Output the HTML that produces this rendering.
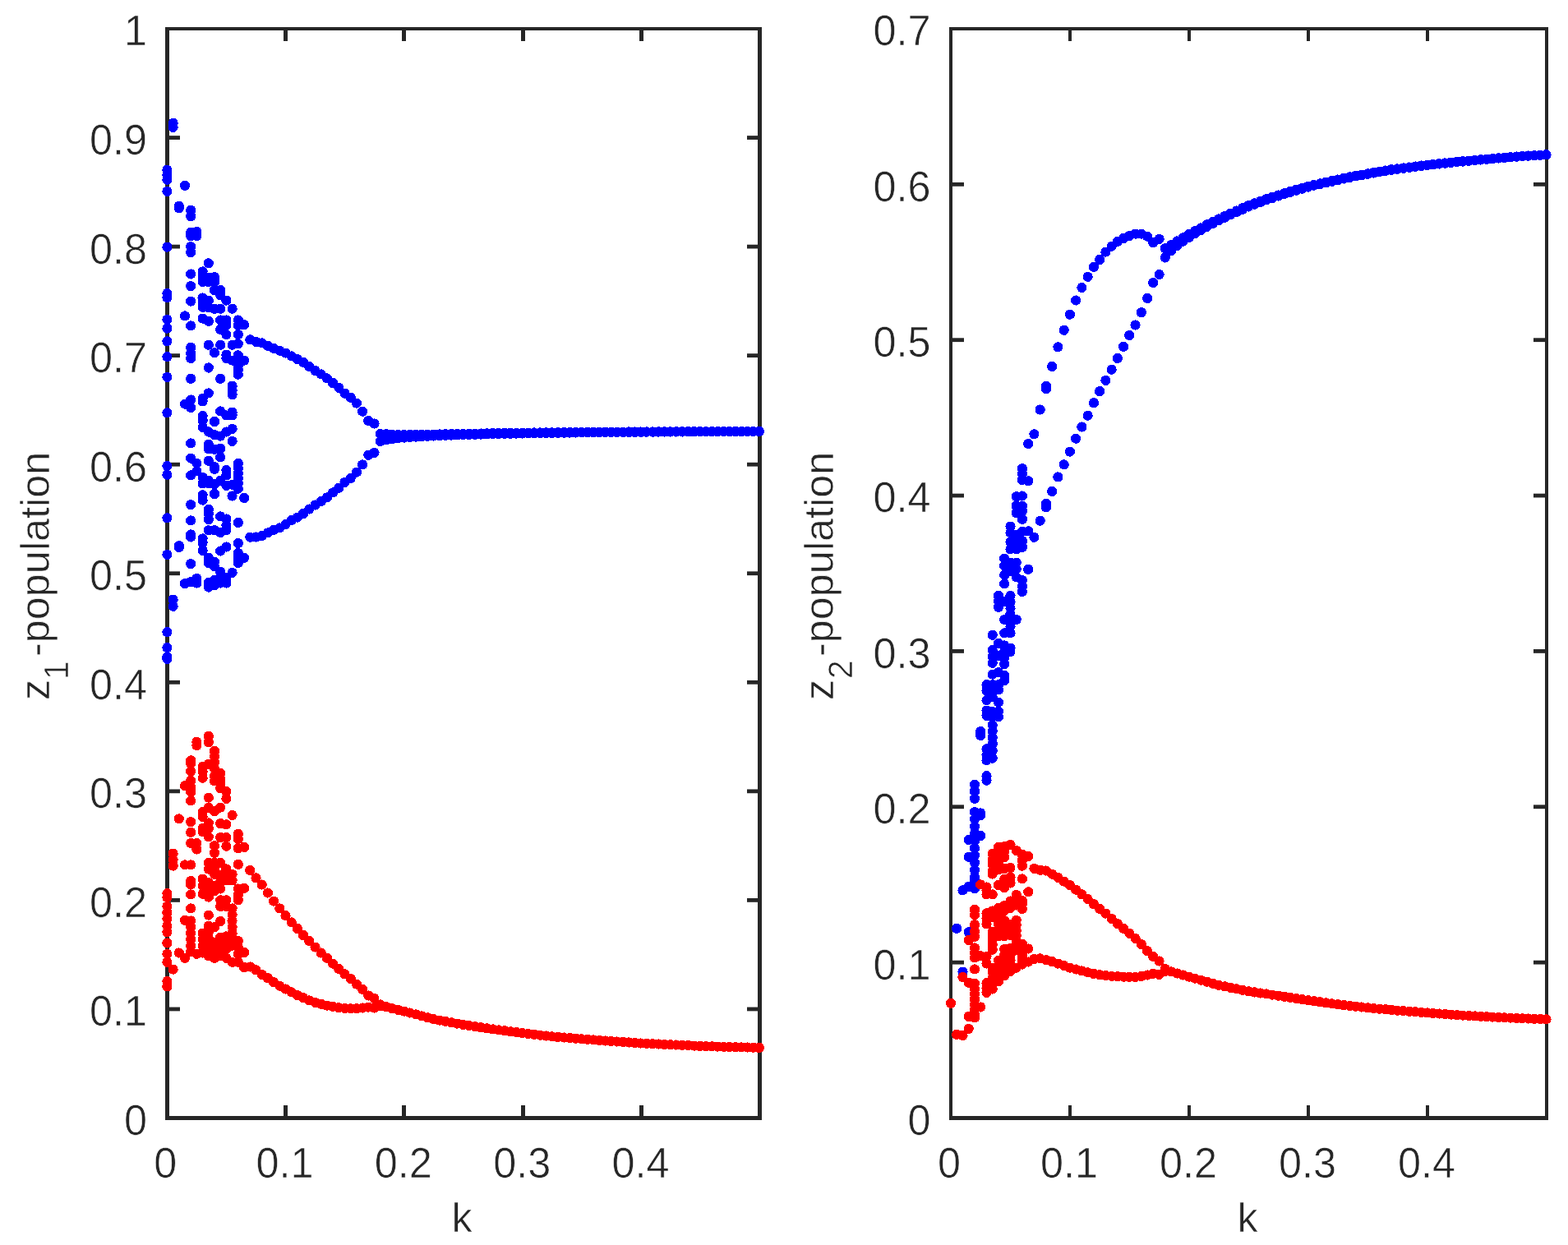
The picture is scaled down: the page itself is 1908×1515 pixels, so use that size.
<!DOCTYPE html>
<html lang="en"><head><meta charset="utf-8"><title>Bifurcation diagrams</title>
<style>html,body{margin:0;padding:0;background:#fff;overflow:hidden}svg{display:block}text{font-family:"Liberation Sans",sans-serif;fill:#262626;stroke:#fff;stroke-width:.6px}.b{fill:#0000ff}.r{fill:#ff0000}.a{fill:#262626}</style></head><body>
<svg width="1908" height="1515" viewBox="0 0 1908 1515">
<rect width="1908" height="1515" fill="#fff"/>
<g class="a">
<rect x="201" y="33" width="5" height="1330"/>
<rect x="922" y="33" width="5" height="1330"/>
<rect x="201" y="33" width="726" height="4"/>
<rect x="201" y="1358" width="726" height="5"/>
<rect x="345" y="1345" width="5" height="14"/>
<rect x="345" y="36" width="5" height="14"/>
<rect x="489" y="1345" width="5" height="14"/>
<rect x="489" y="36" width="5" height="14"/>
<rect x="634" y="1345" width="5" height="14"/>
<rect x="634" y="36" width="5" height="14"/>
<rect x="778" y="1345" width="5" height="14"/>
<rect x="778" y="36" width="5" height="14"/>
<rect x="205" y="1225.55" width="14" height="4.8"/>
<rect x="909" y="1225.55" width="14" height="4.8"/>
<rect x="205" y="1093.00" width="14" height="4.8"/>
<rect x="909" y="1093.00" width="14" height="4.8"/>
<rect x="205" y="960.45" width="14" height="4.8"/>
<rect x="909" y="960.45" width="14" height="4.8"/>
<rect x="205" y="827.90" width="14" height="4.8"/>
<rect x="909" y="827.90" width="14" height="4.8"/>
<rect x="205" y="695.35" width="14" height="4.8"/>
<rect x="909" y="695.35" width="14" height="4.8"/>
<rect x="205" y="562.80" width="14" height="4.8"/>
<rect x="909" y="562.80" width="14" height="4.8"/>
<rect x="205" y="430.25" width="14" height="4.8"/>
<rect x="909" y="430.25" width="14" height="4.8"/>
<rect x="205" y="297.70" width="14" height="4.8"/>
<rect x="909" y="297.70" width="14" height="4.8"/>
<rect x="205" y="165.15" width="14" height="4.8"/>
<rect x="909" y="165.15" width="14" height="4.8"/>
</g>
<g font-size="52.3">
<text transform="translate(201.20 1432.9) scale(0.963 1)" text-anchor="middle">0</text>
<text transform="translate(346.53 1432.9) scale(0.963 1)" text-anchor="middle">0.1</text>
<text transform="translate(490.86 1432.9) scale(0.963 1)" text-anchor="middle">0.2</text>
<text transform="translate(635.19 1432.9) scale(0.963 1)" text-anchor="middle">0.3</text>
<text transform="translate(779.52 1432.9) scale(0.963 1)" text-anchor="middle">0.4</text>
<text transform="translate(179.00 1380.90) scale(0.963 1)" text-anchor="end">0</text>
<text transform="translate(179.00 1248.35) scale(0.963 1)" text-anchor="end">0.1</text>
<text transform="translate(179.00 1115.80) scale(0.963 1)" text-anchor="end">0.2</text>
<text transform="translate(179.00 983.25) scale(0.963 1)" text-anchor="end">0.3</text>
<text transform="translate(179.00 850.70) scale(0.963 1)" text-anchor="end">0.4</text>
<text transform="translate(179.00 718.15) scale(0.963 1)" text-anchor="end">0.5</text>
<text transform="translate(179.00 585.60) scale(0.963 1)" text-anchor="end">0.6</text>
<text transform="translate(179.00 453.05) scale(0.963 1)" text-anchor="end">0.7</text>
<text transform="translate(179.00 320.50) scale(0.963 1)" text-anchor="end">0.8</text>
<text transform="translate(179.00 187.95) scale(0.963 1)" text-anchor="end">0.9</text>
<text transform="translate(179.00 55.40) scale(0.963 1)" text-anchor="end">1</text>
<text x="562.00" y="1499" font-size="50.4" text-anchor="middle">k</text>
<g transform="translate(60.00 0) rotate(-90)">
<text x="-852" y="0" font-size="50.4">z</text>
<text transform="translate(-827 22.9) scale(0.963 1)" font-size="42">1</text>
<text x="-799" y="0" font-size="50.4">-population</text>
</g>
</g>
<g class="a">
<rect x="1155" y="33" width="4" height="1330"/>
<rect x="1880" y="33" width="4" height="1330"/>
<rect x="1155" y="33" width="729" height="4"/>
<rect x="1155" y="1358" width="729" height="5"/>
<rect x="1300" y="1345" width="4" height="14"/>
<rect x="1300" y="36" width="4" height="14"/>
<rect x="1445" y="1345" width="4" height="14"/>
<rect x="1445" y="36" width="4" height="14"/>
<rect x="1590" y="1345" width="4" height="14"/>
<rect x="1590" y="36" width="4" height="14"/>
<rect x="1735" y="1345" width="4" height="14"/>
<rect x="1735" y="36" width="4" height="14"/>
<rect x="1158" y="1168.74" width="15" height="4.8"/>
<rect x="1866" y="1168.74" width="15" height="4.8"/>
<rect x="1158" y="979.38" width="15" height="4.8"/>
<rect x="1866" y="979.38" width="15" height="4.8"/>
<rect x="1158" y="790.02" width="15" height="4.8"/>
<rect x="1866" y="790.02" width="15" height="4.8"/>
<rect x="1158" y="600.66" width="15" height="4.8"/>
<rect x="1866" y="600.66" width="15" height="4.8"/>
<rect x="1158" y="411.30" width="15" height="4.8"/>
<rect x="1866" y="411.30" width="15" height="4.8"/>
<rect x="1158" y="221.94" width="15" height="4.8"/>
<rect x="1866" y="221.94" width="15" height="4.8"/>
</g>
<g font-size="52.3">
<text transform="translate(1155.00 1432.9) scale(0.963 1)" text-anchor="middle">0</text>
<text transform="translate(1301.00 1432.9) scale(0.963 1)" text-anchor="middle">0.1</text>
<text transform="translate(1446.00 1432.9) scale(0.963 1)" text-anchor="middle">0.2</text>
<text transform="translate(1591.00 1432.9) scale(0.963 1)" text-anchor="middle">0.3</text>
<text transform="translate(1736.00 1432.9) scale(0.963 1)" text-anchor="middle">0.4</text>
<text transform="translate(1132.50 1380.90) scale(0.963 1)" text-anchor="end">0</text>
<text transform="translate(1132.50 1191.54) scale(0.963 1)" text-anchor="end">0.1</text>
<text transform="translate(1132.50 1002.18) scale(0.963 1)" text-anchor="end">0.2</text>
<text transform="translate(1132.50 812.82) scale(0.963 1)" text-anchor="end">0.3</text>
<text transform="translate(1132.50 623.46) scale(0.963 1)" text-anchor="end">0.4</text>
<text transform="translate(1132.50 434.10) scale(0.963 1)" text-anchor="end">0.5</text>
<text transform="translate(1132.50 244.74) scale(0.963 1)" text-anchor="end">0.6</text>
<text transform="translate(1132.50 55.38) scale(0.963 1)" text-anchor="end">0.7</text>
<text x="1518.00" y="1499" font-size="50.4" text-anchor="middle">k</text>
<g transform="translate(1014.10 0) rotate(-90)">
<text x="-852" y="0" font-size="50.4">z</text>
<text transform="translate(-826 22.9) scale(0.963 1)" font-size="42">2</text>
<text x="-799" y="0" font-size="50.4">-population</text>
</g>
</g>
<g id="dots" shape-rendering="crispEdges">
<circle class="b" cx="203.4" cy="206.7" r="6.1"/>
<circle class="b" cx="203.4" cy="213.0" r="6.1"/>
<circle class="b" cx="203.4" cy="218.7" r="6.1"/>
<circle class="b" cx="203.4" cy="232.9" r="6.1"/>
<circle class="b" cx="203.4" cy="300.6" r="6.1"/>
<circle class="b" cx="203.4" cy="357.0" r="6.1"/>
<circle class="b" cx="203.4" cy="362.2" r="6.1"/>
<circle class="b" cx="203.4" cy="388.9" r="6.1"/>
<circle class="b" cx="203.4" cy="399.6" r="6.1"/>
<circle class="b" cx="203.4" cy="415.3" r="6.1"/>
<circle class="b" cx="203.4" cy="434.2" r="6.1"/>
<circle class="b" cx="203.4" cy="458.9" r="6.1"/>
<circle class="b" cx="203.4" cy="502.3" r="6.1"/>
<circle class="b" cx="203.4" cy="567.0" r="6.1"/>
<circle class="b" cx="203.4" cy="577.7" r="6.1"/>
<circle class="b" cx="203.4" cy="630.3" r="6.1"/>
<circle class="b" cx="203.4" cy="674.9" r="6.1"/>
<circle class="b" cx="203.4" cy="769.2" r="6.1"/>
<circle class="b" cx="203.4" cy="788.1" r="6.1"/>
<circle class="b" cx="203.4" cy="799.4" r="6.1"/>
<circle class="b" cx="203.4" cy="801.9" r="6.1"/>
<circle class="b" cx="210.6" cy="149.7" r="6.1"/>
<circle class="b" cx="210.6" cy="154.9" r="6.1"/>
<circle class="b" cx="210.6" cy="729.6" r="6.1"/>
<circle class="b" cx="210.6" cy="737.8" r="6.1"/>
<circle class="b" cx="217.8" cy="250.8" r="6.1"/>
<circle class="b" cx="217.8" cy="253.3" r="6.1"/>
<circle class="b" cx="217.8" cy="664.2" r="6.1"/>
<circle class="b" cx="217.8" cy="666.1" r="6.1"/>
<circle class="b" cx="225.0" cy="225.8" r="6.1"/>
<circle class="b" cx="225.0" cy="384.5" r="6.1"/>
<circle class="b" cx="225.0" cy="491.6" r="6.1"/>
<circle class="b" cx="225.0" cy="710.1" r="6.1"/>
<circle class="b" cx="232.2" cy="255.8" r="6.1"/>
<circle class="b" cx="232.2" cy="263.3" r="6.1"/>
<circle class="b" cx="232.2" cy="282.8" r="6.1"/>
<circle class="b" cx="232.2" cy="287.2" r="6.1"/>
<circle class="b" cx="232.2" cy="300.2" r="6.1"/>
<circle class="b" cx="232.2" cy="307.1" r="6.1"/>
<circle class="b" cx="232.2" cy="333.5" r="6.1"/>
<circle class="b" cx="232.2" cy="348.2" r="6.1"/>
<circle class="b" cx="232.2" cy="366.6" r="6.1"/>
<circle class="b" cx="232.2" cy="396.4" r="6.1"/>
<circle class="b" cx="232.2" cy="422.8" r="6.1"/>
<circle class="b" cx="232.2" cy="429.7" r="6.1"/>
<circle class="b" cx="232.2" cy="436.0" r="6.1"/>
<circle class="b" cx="232.2" cy="460.8" r="6.1"/>
<circle class="b" cx="232.2" cy="486.5" r="6.1"/>
<circle class="b" cx="232.2" cy="496.0" r="6.1"/>
<circle class="b" cx="232.2" cy="539.4" r="6.1"/>
<circle class="b" cx="232.2" cy="557.6" r="6.1"/>
<circle class="b" cx="232.2" cy="578.4" r="6.1"/>
<circle class="b" cx="232.2" cy="614.2" r="6.1"/>
<circle class="b" cx="232.2" cy="633.4" r="6.1"/>
<circle class="b" cx="232.2" cy="650.4" r="6.1"/>
<circle class="b" cx="232.2" cy="653.5" r="6.1"/>
<circle class="b" cx="232.2" cy="686.2" r="6.1"/>
<circle class="b" cx="232.2" cy="708.2" r="6.1"/>
<circle class="b" cx="239.4" cy="281.8" r="6.1"/>
<circle class="b" cx="239.4" cy="287.2" r="6.1"/>
<circle class="b" cx="239.4" cy="563.9" r="6.1"/>
<circle class="b" cx="239.4" cy="573.3" r="6.1"/>
<circle class="b" cx="239.4" cy="703.8" r="6.1"/>
<circle class="b" cx="239.4" cy="709.5" r="6.1"/>
<circle class="b" cx="246.6" cy="330.4" r="6.1"/>
<circle class="b" cx="246.6" cy="336.7" r="6.1"/>
<circle class="b" cx="246.6" cy="343.0" r="6.1"/>
<circle class="b" cx="246.6" cy="362.5" r="6.1"/>
<circle class="b" cx="246.6" cy="368.1" r="6.1"/>
<circle class="b" cx="246.6" cy="373.8" r="6.1"/>
<circle class="b" cx="246.6" cy="387.6" r="6.1"/>
<circle class="b" cx="246.6" cy="484.7" r="6.1"/>
<circle class="b" cx="246.6" cy="488.4" r="6.1"/>
<circle class="b" cx="246.6" cy="506.0" r="6.1"/>
<circle class="b" cx="246.6" cy="511.7" r="6.1"/>
<circle class="b" cx="246.6" cy="519.9" r="6.1"/>
<circle class="b" cx="246.6" cy="580.9" r="6.1"/>
<circle class="b" cx="246.6" cy="588.4" r="6.1"/>
<circle class="b" cx="246.6" cy="602.3" r="6.1"/>
<circle class="b" cx="246.6" cy="608.6" r="6.1"/>
<circle class="b" cx="246.6" cy="655.4" r="6.1"/>
<circle class="b" cx="246.6" cy="660.4" r="6.1"/>
<circle class="b" cx="246.6" cy="669.9" r="6.1"/>
<circle class="b" cx="253.8" cy="320.3" r="6.1"/>
<circle class="b" cx="253.8" cy="337.9" r="6.1"/>
<circle class="b" cx="253.8" cy="343.0" r="6.1"/>
<circle class="b" cx="253.8" cy="365.6" r="6.1"/>
<circle class="b" cx="253.8" cy="374.4" r="6.1"/>
<circle class="b" cx="253.8" cy="390.8" r="6.1"/>
<circle class="b" cx="253.8" cy="419.7" r="6.1"/>
<circle class="b" cx="253.8" cy="447.5" r="6.1"/>
<circle class="b" cx="253.8" cy="478.4" r="6.1"/>
<circle class="b" cx="253.8" cy="525.5" r="6.1"/>
<circle class="b" cx="253.8" cy="540.6" r="6.1"/>
<circle class="b" cx="253.8" cy="546.3" r="6.1"/>
<circle class="b" cx="253.8" cy="560.8" r="6.1"/>
<circle class="b" cx="253.8" cy="584.7" r="6.1"/>
<circle class="b" cx="253.8" cy="588.4" r="6.1"/>
<circle class="b" cx="253.8" cy="619.9" r="6.1"/>
<circle class="b" cx="253.8" cy="624.9" r="6.1"/>
<circle class="b" cx="253.8" cy="632.1" r="6.1"/>
<circle class="b" cx="253.8" cy="645.3" r="6.1"/>
<circle class="b" cx="253.8" cy="678.7" r="6.1"/>
<circle class="b" cx="253.8" cy="685.0" r="6.1"/>
<circle class="b" cx="253.8" cy="708.9" r="6.1"/>
<circle class="b" cx="253.8" cy="714.5" r="6.1"/>
<circle class="b" cx="261.0" cy="337.3" r="6.1"/>
<circle class="b" cx="261.0" cy="343.0" r="6.1"/>
<circle class="b" cx="261.0" cy="353.0" r="6.1"/>
<circle class="b" cx="261.0" cy="375.7" r="6.1"/>
<circle class="b" cx="261.0" cy="429.1" r="6.1"/>
<circle class="b" cx="261.0" cy="513.0" r="6.1"/>
<circle class="b" cx="261.0" cy="529.3" r="6.1"/>
<circle class="b" cx="261.0" cy="546.9" r="6.1"/>
<circle class="b" cx="261.0" cy="568.3" r="6.1"/>
<circle class="b" cx="261.0" cy="570.8" r="6.1"/>
<circle class="b" cx="261.0" cy="589.1" r="6.1"/>
<circle class="b" cx="261.0" cy="601.0" r="6.1"/>
<circle class="b" cx="261.0" cy="645.3" r="6.1"/>
<circle class="b" cx="261.0" cy="683.7" r="6.1"/>
<circle class="b" cx="261.0" cy="689.4" r="6.1"/>
<circle class="b" cx="261.0" cy="705.7" r="6.1"/>
<circle class="b" cx="261.0" cy="712.0" r="6.1"/>
<circle class="b" cx="268.2" cy="353.0" r="6.1"/>
<circle class="b" cx="268.2" cy="359.3" r="6.1"/>
<circle class="b" cx="268.2" cy="375.7" r="6.1"/>
<circle class="b" cx="268.2" cy="389.5" r="6.1"/>
<circle class="b" cx="268.2" cy="400.8" r="6.1"/>
<circle class="b" cx="268.2" cy="419.7" r="6.1"/>
<circle class="b" cx="268.2" cy="460.8" r="6.1"/>
<circle class="b" cx="268.2" cy="500.4" r="6.1"/>
<circle class="b" cx="268.2" cy="530.6" r="6.1"/>
<circle class="b" cx="268.2" cy="545.7" r="6.1"/>
<circle class="b" cx="268.2" cy="556.4" r="6.1"/>
<circle class="b" cx="268.2" cy="584.7" r="6.1"/>
<circle class="b" cx="268.2" cy="628.4" r="6.1"/>
<circle class="b" cx="268.2" cy="647.9" r="6.1"/>
<circle class="b" cx="268.2" cy="670.5" r="6.1"/>
<circle class="b" cx="268.2" cy="695.7" r="6.1"/>
<circle class="b" cx="268.2" cy="703.2" r="6.1"/>
<circle class="b" cx="268.2" cy="709.5" r="6.1"/>
<circle class="b" cx="275.4" cy="365.6" r="6.1"/>
<circle class="b" cx="275.4" cy="389.5" r="6.1"/>
<circle class="b" cx="275.4" cy="395.8" r="6.1"/>
<circle class="b" cx="275.4" cy="407.1" r="6.1"/>
<circle class="b" cx="275.4" cy="431.6" r="6.1"/>
<circle class="b" cx="275.4" cy="436.0" r="6.1"/>
<circle class="b" cx="275.4" cy="505.4" r="6.1"/>
<circle class="b" cx="275.4" cy="525.5" r="6.1"/>
<circle class="b" cx="275.4" cy="572.1" r="6.1"/>
<circle class="b" cx="275.4" cy="578.4" r="6.1"/>
<circle class="b" cx="275.4" cy="590.9" r="6.1"/>
<circle class="b" cx="275.4" cy="631.5" r="6.1"/>
<circle class="b" cx="275.4" cy="639.1" r="6.1"/>
<circle class="b" cx="275.4" cy="645.3" r="6.1"/>
<circle class="b" cx="275.4" cy="665.5" r="6.1"/>
<circle class="b" cx="275.4" cy="703.2" r="6.1"/>
<circle class="b" cx="275.4" cy="709.5" r="6.1"/>
<circle class="b" cx="282.6" cy="375.7" r="6.1"/>
<circle class="b" cx="282.6" cy="419.7" r="6.1"/>
<circle class="b" cx="282.6" cy="438.6" r="6.1"/>
<circle class="b" cx="282.6" cy="469.6" r="6.1"/>
<circle class="b" cx="282.6" cy="475.0" r="6.1"/>
<circle class="b" cx="282.6" cy="480.3" r="6.1"/>
<circle class="b" cx="282.6" cy="501.6" r="6.1"/>
<circle class="b" cx="282.6" cy="505.4" r="6.1"/>
<circle class="b" cx="282.6" cy="521.8" r="6.1"/>
<circle class="b" cx="282.6" cy="536.9" r="6.1"/>
<circle class="b" cx="282.6" cy="589.7" r="6.1"/>
<circle class="b" cx="282.6" cy="603.5" r="6.1"/>
<circle class="b" cx="282.6" cy="696.9" r="6.1"/>
<circle class="b" cx="289.8" cy="389.5" r="6.1"/>
<circle class="b" cx="289.8" cy="395.8" r="6.1"/>
<circle class="b" cx="289.8" cy="407.1" r="6.1"/>
<circle class="b" cx="289.8" cy="418.4" r="6.1"/>
<circle class="b" cx="289.8" cy="432.3" r="6.1"/>
<circle class="b" cx="289.8" cy="438.6" r="6.1"/>
<circle class="b" cx="289.8" cy="445.0" r="6.1"/>
<circle class="b" cx="289.8" cy="450.1" r="6.1"/>
<circle class="b" cx="289.8" cy="455.7" r="6.1"/>
<circle class="b" cx="289.8" cy="563.9" r="6.1"/>
<circle class="b" cx="289.8" cy="569.6" r="6.1"/>
<circle class="b" cx="289.8" cy="575.8" r="6.1"/>
<circle class="b" cx="289.8" cy="582.1" r="6.1"/>
<circle class="b" cx="289.8" cy="588.4" r="6.1"/>
<circle class="b" cx="289.8" cy="594.7" r="6.1"/>
<circle class="b" cx="289.8" cy="635.9" r="6.1"/>
<circle class="b" cx="289.8" cy="661.1" r="6.1"/>
<circle class="b" cx="289.8" cy="673.0" r="6.1"/>
<circle class="b" cx="289.8" cy="678.7" r="6.1"/>
<circle class="b" cx="289.8" cy="685.0" r="6.1"/>
<circle class="b" cx="297.1" cy="395.2" r="6.1"/>
<circle class="b" cx="297.1" cy="438.6" r="6.1"/>
<circle class="b" cx="297.1" cy="606.0" r="6.1"/>
<circle class="b" cx="297.1" cy="678.7" r="6.1"/>
<circle class="b" cx="304.3" cy="413.3" r="6.1"/>
<circle class="b" cx="304.3" cy="653.7" r="6.1"/>
<circle class="b" cx="311.5" cy="415.8" r="6.1"/>
<circle class="b" cx="311.5" cy="653.5" r="6.1"/>
<circle class="b" cx="318.7" cy="417.4" r="6.1"/>
<circle class="b" cx="318.7" cy="652.0" r="6.1"/>
<circle class="b" cx="325.9" cy="420.8" r="6.1"/>
<circle class="b" cx="325.9" cy="648.4" r="6.1"/>
<circle class="b" cx="333.1" cy="424.0" r="6.1"/>
<circle class="b" cx="333.1" cy="644.7" r="6.1"/>
<circle class="b" cx="340.3" cy="426.7" r="6.1"/>
<circle class="b" cx="340.3" cy="642.4" r="6.1"/>
<circle class="b" cx="347.5" cy="429.6" r="6.1"/>
<circle class="b" cx="347.5" cy="638.1" r="6.1"/>
<circle class="b" cx="354.7" cy="433.4" r="6.1"/>
<circle class="b" cx="354.7" cy="633.1" r="6.1"/>
<circle class="b" cx="361.9" cy="437.2" r="6.1"/>
<circle class="b" cx="361.9" cy="629.6" r="6.1"/>
<circle class="b" cx="369.1" cy="440.9" r="6.1"/>
<circle class="b" cx="369.1" cy="624.9" r="6.1"/>
<circle class="b" cx="376.3" cy="446.0" r="6.1"/>
<circle class="b" cx="376.3" cy="619.5" r="6.1"/>
<circle class="b" cx="383.5" cy="451.0" r="6.1"/>
<circle class="b" cx="383.5" cy="614.5" r="6.1"/>
<circle class="b" cx="390.7" cy="455.4" r="6.1"/>
<circle class="b" cx="390.7" cy="610.1" r="6.1"/>
<circle class="b" cx="397.9" cy="460.4" r="6.1"/>
<circle class="b" cx="397.9" cy="605.4" r="6.1"/>
<circle class="b" cx="405.1" cy="466.1" r="6.1"/>
<circle class="b" cx="405.1" cy="599.4" r="6.1"/>
<circle class="b" cx="412.3" cy="471.8" r="6.1"/>
<circle class="b" cx="412.3" cy="593.7" r="6.1"/>
<circle class="b" cx="419.5" cy="478.7" r="6.1"/>
<circle class="b" cx="419.5" cy="586.8" r="6.1"/>
<circle class="b" cx="426.7" cy="483.7" r="6.1"/>
<circle class="b" cx="426.7" cy="582.0" r="6.1"/>
<circle class="b" cx="433.9" cy="490.6" r="6.1"/>
<circle class="b" cx="433.9" cy="574.7" r="6.1"/>
<circle class="b" cx="441.1" cy="500.7" r="6.1"/>
<circle class="b" cx="441.1" cy="565.4" r="6.1"/>
<circle class="b" cx="448.3" cy="512.0" r="6.1"/>
<circle class="b" cx="448.3" cy="553.8" r="6.1"/>
<circle class="b" cx="455.5" cy="515.5" r="6.1"/>
<circle class="b" cx="455.5" cy="550.8" r="6.1"/>
<circle class="b" cx="462.7" cy="528.0" r="6.1"/>
<circle class="b" cx="462.7" cy="537.0" r="6.1"/>
<circle class="b" cx="469.9" cy="528.2" r="6.1"/>
<circle class="b" cx="469.9" cy="535.1" r="6.1"/>
<circle class="b" cx="477.2" cy="528.6" r="6.1"/>
<circle class="b" cx="477.2" cy="534.1" r="6.1"/>
<circle class="b" cx="484.4" cy="528.8" r="6.1"/>
<circle class="b" cx="484.4" cy="533.3" r="6.1"/>
<circle class="b" cx="491.6" cy="528.9" r="6.1"/>
<circle class="b" cx="491.6" cy="532.6" r="6.1"/>
<circle class="b" cx="498.8" cy="528.9" r="6.1"/>
<circle class="b" cx="498.8" cy="532.0" r="6.1"/>
<circle class="b" cx="506.0" cy="528.9" r="6.1"/>
<circle class="b" cx="506.0" cy="531.6" r="6.1"/>
<circle class="b" cx="513.2" cy="528.8" r="6.1"/>
<circle class="b" cx="513.2" cy="531.2" r="6.1"/>
<circle class="b" cx="520.4" cy="528.7" r="6.1"/>
<circle class="b" cx="520.4" cy="530.8" r="6.1"/>
<circle class="b" cx="527.6" cy="528.6" r="6.1"/>
<circle class="b" cx="527.6" cy="530.5" r="6.1"/>
<circle class="b" cx="534.8" cy="528.4" r="6.1"/>
<circle class="b" cx="534.8" cy="530.2" r="6.1"/>
<circle class="b" cx="542.0" cy="528.3" r="6.1"/>
<circle class="b" cx="542.0" cy="529.9" r="6.1"/>
<circle class="b" cx="549.2" cy="528.1" r="6.1"/>
<circle class="b" cx="549.2" cy="529.6" r="6.1"/>
<circle class="b" cx="556.4" cy="528.0" r="6.1"/>
<circle class="b" cx="556.4" cy="529.4" r="6.1"/>
<circle class="b" cx="563.6" cy="527.9" r="6.1"/>
<circle class="b" cx="563.6" cy="529.2" r="6.1"/>
<circle class="b" cx="570.8" cy="527.7" r="6.1"/>
<circle class="b" cx="570.8" cy="529.0" r="6.1"/>
<circle class="b" cx="578.0" cy="527.6" r="6.1"/>
<circle class="b" cx="578.0" cy="528.8" r="6.1"/>
<circle class="b" cx="585.2" cy="527.5" r="6.1"/>
<circle class="b" cx="585.2" cy="528.6" r="6.1"/>
<circle class="b" cx="592.4" cy="527.3" r="6.1"/>
<circle class="b" cx="592.4" cy="528.4" r="6.1"/>
<circle class="b" cx="599.6" cy="527.2" r="6.1"/>
<circle class="b" cx="599.6" cy="528.2" r="6.1"/>
<circle class="b" cx="606.8" cy="527.1" r="6.1"/>
<circle class="b" cx="606.8" cy="528.1" r="6.1"/>
<circle class="b" cx="614.0" cy="527.0" r="6.1"/>
<circle class="b" cx="614.0" cy="527.9" r="6.1"/>
<circle class="b" cx="621.2" cy="526.9" r="6.1"/>
<circle class="b" cx="621.2" cy="527.8" r="6.1"/>
<circle class="b" cx="628.4" cy="526.8" r="6.1"/>
<circle class="b" cx="628.4" cy="527.6" r="6.1"/>
<circle class="b" cx="635.6" cy="526.7" r="6.1"/>
<circle class="b" cx="635.6" cy="527.5" r="6.1"/>
<circle class="b" cx="642.8" cy="526.6" r="6.1"/>
<circle class="b" cx="642.8" cy="527.4" r="6.1"/>
<circle class="b" cx="650.0" cy="526.5" r="6.1"/>
<circle class="b" cx="650.0" cy="527.3" r="6.1"/>
<circle class="b" cx="657.3" cy="526.4" r="6.1"/>
<circle class="b" cx="657.3" cy="527.1" r="6.1"/>
<circle class="b" cx="664.5" cy="526.4" r="6.1"/>
<circle class="b" cx="664.5" cy="527.0" r="6.1"/>
<circle class="b" cx="671.7" cy="526.3" r="6.1"/>
<circle class="b" cx="671.7" cy="526.9" r="6.1"/>
<circle class="b" cx="678.9" cy="526.2" r="6.1"/>
<circle class="b" cx="678.9" cy="526.8" r="6.1"/>
<circle class="b" cx="686.1" cy="526.1" r="6.1"/>
<circle class="b" cx="686.1" cy="526.7" r="6.1"/>
<circle class="b" cx="693.3" cy="526.1" r="6.1"/>
<circle class="b" cx="693.3" cy="526.6" r="6.1"/>
<circle class="b" cx="700.5" cy="526.0" r="6.1"/>
<circle class="b" cx="700.5" cy="526.5" r="6.1"/>
<circle class="b" cx="707.7" cy="525.9" r="6.1"/>
<circle class="b" cx="707.7" cy="526.4" r="6.1"/>
<circle class="b" cx="714.9" cy="525.9" r="6.1"/>
<circle class="b" cx="714.9" cy="526.4" r="6.1"/>
<circle class="b" cx="722.1" cy="525.8" r="6.1"/>
<circle class="b" cx="722.1" cy="526.3" r="6.1"/>
<circle class="b" cx="729.3" cy="525.8" r="6.1"/>
<circle class="b" cx="729.3" cy="526.2" r="6.1"/>
<circle class="b" cx="736.5" cy="525.7" r="6.1"/>
<circle class="b" cx="736.5" cy="526.1" r="6.1"/>
<circle class="b" cx="743.7" cy="525.7" r="6.1"/>
<circle class="b" cx="743.7" cy="526.1" r="6.1"/>
<circle class="b" cx="750.9" cy="525.6" r="6.1"/>
<circle class="b" cx="750.9" cy="526.0" r="6.1"/>
<circle class="b" cx="758.1" cy="525.6" r="6.1"/>
<circle class="b" cx="758.1" cy="525.9" r="6.1"/>
<circle class="b" cx="765.3" cy="525.5" r="6.1"/>
<circle class="b" cx="765.3" cy="525.9" r="6.1"/>
<circle class="b" cx="772.5" cy="525.5" r="6.1"/>
<circle class="b" cx="772.5" cy="525.8" r="6.1"/>
<circle class="b" cx="779.7" cy="525.5" r="6.1"/>
<circle class="b" cx="779.7" cy="525.8" r="6.1"/>
<circle class="b" cx="786.9" cy="525.4" r="6.1"/>
<circle class="b" cx="786.9" cy="525.7" r="6.1"/>
<circle class="b" cx="794.1" cy="525.4" r="6.1"/>
<circle class="b" cx="794.1" cy="525.7" r="6.1"/>
<circle class="b" cx="801.3" cy="525.3" r="6.1"/>
<circle class="b" cx="801.3" cy="525.6" r="6.1"/>
<circle class="b" cx="808.5" cy="525.3" r="6.1"/>
<circle class="b" cx="808.5" cy="525.6" r="6.1"/>
<circle class="b" cx="815.7" cy="525.3" r="6.1"/>
<circle class="b" cx="815.7" cy="525.5" r="6.1"/>
<circle class="b" cx="822.9" cy="525.3" r="6.1"/>
<circle class="b" cx="822.9" cy="525.5" r="6.1"/>
<circle class="b" cx="830.1" cy="525.2" r="6.1"/>
<circle class="b" cx="830.1" cy="525.5" r="6.1"/>
<circle class="b" cx="837.4" cy="525.2" r="6.1"/>
<circle class="b" cx="837.4" cy="525.4" r="6.1"/>
<circle class="b" cx="844.6" cy="525.2" r="6.1"/>
<circle class="b" cx="844.6" cy="525.4" r="6.1"/>
<circle class="b" cx="851.8" cy="525.1" r="6.1"/>
<circle class="b" cx="851.8" cy="525.4" r="6.1"/>
<circle class="b" cx="859.0" cy="525.1" r="6.1"/>
<circle class="b" cx="859.0" cy="525.3" r="6.1"/>
<circle class="b" cx="866.2" cy="525.1" r="6.1"/>
<circle class="b" cx="866.2" cy="525.3" r="6.1"/>
<circle class="b" cx="873.4" cy="525.1" r="6.1"/>
<circle class="b" cx="873.4" cy="525.3" r="6.1"/>
<circle class="b" cx="880.6" cy="525.1" r="6.1"/>
<circle class="b" cx="880.6" cy="525.2" r="6.1"/>
<circle class="b" cx="887.8" cy="525.0" r="6.1"/>
<circle class="b" cx="887.8" cy="525.2" r="6.1"/>
<circle class="b" cx="895.0" cy="525.0" r="6.1"/>
<circle class="b" cx="895.0" cy="525.2" r="6.1"/>
<circle class="b" cx="902.2" cy="525.0" r="6.1"/>
<circle class="b" cx="902.2" cy="525.1" r="6.1"/>
<circle class="b" cx="909.4" cy="525.0" r="6.1"/>
<circle class="b" cx="909.4" cy="525.1" r="6.1"/>
<circle class="b" cx="916.6" cy="525.0" r="6.1"/>
<circle class="b" cx="916.6" cy="525.1" r="6.1"/>
<circle class="b" cx="923.8" cy="524.9" r="6.1"/>
<circle class="b" cx="923.8" cy="525.1" r="6.1"/>
<circle class="r" cx="210.6" cy="1038.6" r="6.1"/>
<circle class="r" cx="210.6" cy="1046.1" r="6.1"/>
<circle class="r" cx="210.6" cy="1053.6" r="6.1"/>
<circle class="r" cx="210.6" cy="1053.2" r="6.1"/>
<circle class="r" cx="210.6" cy="1179.6" r="6.1"/>
<circle class="r" cx="217.8" cy="996.4" r="6.1"/>
<circle class="r" cx="217.8" cy="1159.5" r="6.1"/>
<circle class="r" cx="225.0" cy="956.2" r="6.1"/>
<circle class="r" cx="225.0" cy="1052.4" r="6.1"/>
<circle class="r" cx="225.0" cy="1119.9" r="6.1"/>
<circle class="r" cx="225.0" cy="1165.8" r="6.1"/>
<circle class="r" cx="232.2" cy="925.3" r="6.1"/>
<circle class="r" cx="232.2" cy="929.1" r="6.1"/>
<circle class="r" cx="232.2" cy="938.6" r="6.1"/>
<circle class="r" cx="232.2" cy="949.9" r="6.1"/>
<circle class="r" cx="232.2" cy="958.1" r="6.1"/>
<circle class="r" cx="232.2" cy="963.7" r="6.1"/>
<circle class="r" cx="232.2" cy="974.4" r="6.1"/>
<circle class="r" cx="232.2" cy="1000.2" r="6.1"/>
<circle class="r" cx="232.2" cy="1012.8" r="6.1"/>
<circle class="r" cx="232.2" cy="1026.0" r="6.1"/>
<circle class="r" cx="232.2" cy="1052.4" r="6.1"/>
<circle class="r" cx="232.2" cy="1072.1" r="6.1"/>
<circle class="r" cx="232.2" cy="1076.5" r="6.1"/>
<circle class="r" cx="232.2" cy="1088.4" r="6.1"/>
<circle class="r" cx="232.2" cy="1105.4" r="6.1"/>
<circle class="r" cx="232.2" cy="1120.5" r="6.1"/>
<circle class="r" cx="232.2" cy="1128.1" r="6.1"/>
<circle class="r" cx="232.2" cy="1135.6" r="6.1"/>
<circle class="r" cx="232.2" cy="1143.1" r="6.1"/>
<circle class="r" cx="232.2" cy="1150.7" r="6.1"/>
<circle class="r" cx="232.2" cy="1158.2" r="6.1"/>
<circle class="r" cx="239.4" cy="902.7" r="6.1"/>
<circle class="r" cx="239.4" cy="907.1" r="6.1"/>
<circle class="r" cx="239.4" cy="1026.0" r="6.1"/>
<circle class="r" cx="239.4" cy="1033.5" r="6.1"/>
<circle class="r" cx="239.4" cy="1160.8" r="6.1"/>
<circle class="r" cx="246.6" cy="932.9" r="6.1"/>
<circle class="r" cx="246.6" cy="939.2" r="6.1"/>
<circle class="r" cx="246.6" cy="946.7" r="6.1"/>
<circle class="r" cx="246.6" cy="988.2" r="6.1"/>
<circle class="r" cx="246.6" cy="993.9" r="6.1"/>
<circle class="r" cx="246.6" cy="1007.7" r="6.1"/>
<circle class="r" cx="246.6" cy="1012.1" r="6.1"/>
<circle class="r" cx="246.6" cy="1069.6" r="6.1"/>
<circle class="r" cx="246.6" cy="1077.7" r="6.1"/>
<circle class="r" cx="246.6" cy="1087.8" r="6.1"/>
<circle class="r" cx="246.6" cy="1135.6" r="6.1"/>
<circle class="r" cx="246.6" cy="1143.1" r="6.1"/>
<circle class="r" cx="246.6" cy="1150.7" r="6.1"/>
<circle class="r" cx="246.6" cy="1159.5" r="6.1"/>
<circle class="r" cx="253.8" cy="895.8" r="6.1"/>
<circle class="r" cx="253.8" cy="903.3" r="6.1"/>
<circle class="r" cx="253.8" cy="929.7" r="6.1"/>
<circle class="r" cx="253.8" cy="970.6" r="6.1"/>
<circle class="r" cx="253.8" cy="982.6" r="6.1"/>
<circle class="r" cx="253.8" cy="1001.4" r="6.1"/>
<circle class="r" cx="253.8" cy="1008.4" r="6.1"/>
<circle class="r" cx="253.8" cy="1018.4" r="6.1"/>
<circle class="r" cx="253.8" cy="1049.9" r="6.1"/>
<circle class="r" cx="253.8" cy="1057.6" r="6.1"/>
<circle class="r" cx="253.8" cy="1074.0" r="6.1"/>
<circle class="r" cx="253.8" cy="1082.8" r="6.1"/>
<circle class="r" cx="253.8" cy="1091.6" r="6.1"/>
<circle class="r" cx="253.8" cy="1113.6" r="6.1"/>
<circle class="r" cx="253.8" cy="1126.8" r="6.1"/>
<circle class="r" cx="253.8" cy="1134.3" r="6.1"/>
<circle class="r" cx="253.8" cy="1141.9" r="6.1"/>
<circle class="r" cx="253.8" cy="1149.4" r="6.1"/>
<circle class="r" cx="253.8" cy="1157.0" r="6.1"/>
<circle class="r" cx="253.8" cy="1163.3" r="6.1"/>
<circle class="r" cx="261.0" cy="914.0" r="6.1"/>
<circle class="r" cx="261.0" cy="920.3" r="6.1"/>
<circle class="r" cx="261.0" cy="927.9" r="6.1"/>
<circle class="r" cx="261.0" cy="935.4" r="6.1"/>
<circle class="r" cx="261.0" cy="944.2" r="6.1"/>
<circle class="r" cx="261.0" cy="950.5" r="6.1"/>
<circle class="r" cx="261.0" cy="987.0" r="6.1"/>
<circle class="r" cx="261.0" cy="1029.1" r="6.1"/>
<circle class="r" cx="261.0" cy="1037.9" r="6.1"/>
<circle class="r" cx="261.0" cy="1049.9" r="6.1"/>
<circle class="r" cx="261.0" cy="1057.6" r="6.1"/>
<circle class="r" cx="261.0" cy="1063.9" r="6.1"/>
<circle class="r" cx="261.0" cy="1077.7" r="6.1"/>
<circle class="r" cx="261.0" cy="1084.0" r="6.1"/>
<circle class="r" cx="261.0" cy="1128.1" r="6.1"/>
<circle class="r" cx="261.0" cy="1146.9" r="6.1"/>
<circle class="r" cx="261.0" cy="1154.5" r="6.1"/>
<circle class="r" cx="261.0" cy="1162.0" r="6.1"/>
<circle class="r" cx="261.0" cy="1165.8" r="6.1"/>
<circle class="r" cx="268.2" cy="941.1" r="6.1"/>
<circle class="r" cx="268.2" cy="948.0" r="6.1"/>
<circle class="r" cx="268.2" cy="953.6" r="6.1"/>
<circle class="r" cx="268.2" cy="959.3" r="6.1"/>
<circle class="r" cx="268.2" cy="982.6" r="6.1"/>
<circle class="r" cx="268.2" cy="1002.1" r="6.1"/>
<circle class="r" cx="268.2" cy="1019.1" r="6.1"/>
<circle class="r" cx="268.2" cy="1049.9" r="6.1"/>
<circle class="r" cx="268.2" cy="1065.2" r="6.1"/>
<circle class="r" cx="268.2" cy="1072.7" r="6.1"/>
<circle class="r" cx="268.2" cy="1081.5" r="6.1"/>
<circle class="r" cx="268.2" cy="1095.3" r="6.1"/>
<circle class="r" cx="268.2" cy="1102.9" r="6.1"/>
<circle class="r" cx="268.2" cy="1121.1" r="6.1"/>
<circle class="r" cx="268.2" cy="1140.6" r="6.1"/>
<circle class="r" cx="268.2" cy="1148.2" r="6.1"/>
<circle class="r" cx="268.2" cy="1155.7" r="6.1"/>
<circle class="r" cx="268.2" cy="1163.3" r="6.1"/>
<circle class="r" cx="275.4" cy="963.1" r="6.1"/>
<circle class="r" cx="275.4" cy="971.9" r="6.1"/>
<circle class="r" cx="275.4" cy="1003.3" r="6.1"/>
<circle class="r" cx="275.4" cy="1019.1" r="6.1"/>
<circle class="r" cx="275.4" cy="1029.7" r="6.1"/>
<circle class="r" cx="275.4" cy="1057.4" r="6.1"/>
<circle class="r" cx="275.4" cy="1057.6" r="6.1"/>
<circle class="r" cx="275.4" cy="1065.2" r="6.1"/>
<circle class="r" cx="275.4" cy="1071.4" r="6.1"/>
<circle class="r" cx="275.4" cy="1095.3" r="6.1"/>
<circle class="r" cx="275.4" cy="1102.9" r="6.1"/>
<circle class="r" cx="275.4" cy="1139.4" r="6.1"/>
<circle class="r" cx="275.4" cy="1146.9" r="6.1"/>
<circle class="r" cx="275.4" cy="1154.5" r="6.1"/>
<circle class="r" cx="275.4" cy="1165.8" r="6.1"/>
<circle class="r" cx="282.6" cy="992.0" r="6.1"/>
<circle class="r" cx="282.6" cy="1063.9" r="6.1"/>
<circle class="r" cx="282.6" cy="1071.4" r="6.1"/>
<circle class="r" cx="282.6" cy="1105.4" r="6.1"/>
<circle class="r" cx="282.6" cy="1113.0" r="6.1"/>
<circle class="r" cx="282.6" cy="1120.5" r="6.1"/>
<circle class="r" cx="282.6" cy="1128.1" r="6.1"/>
<circle class="r" cx="282.6" cy="1135.6" r="6.1"/>
<circle class="r" cx="282.6" cy="1143.1" r="6.1"/>
<circle class="r" cx="282.6" cy="1150.7" r="6.1"/>
<circle class="r" cx="282.6" cy="1170.8" r="6.1"/>
<circle class="r" cx="289.8" cy="1014.7" r="6.1"/>
<circle class="r" cx="289.8" cy="1020.9" r="6.1"/>
<circle class="r" cx="289.8" cy="1032.3" r="6.1"/>
<circle class="r" cx="289.8" cy="1051.8" r="6.1"/>
<circle class="r" cx="289.8" cy="1081.5" r="6.1"/>
<circle class="r" cx="289.8" cy="1089.1" r="6.1"/>
<circle class="r" cx="289.8" cy="1095.3" r="6.1"/>
<circle class="r" cx="289.8" cy="1145.0" r="6.1"/>
<circle class="r" cx="289.8" cy="1153.2" r="6.1"/>
<circle class="r" cx="289.8" cy="1160.8" r="6.1"/>
<circle class="r" cx="289.8" cy="1170.8" r="6.1"/>
<circle class="r" cx="297.1" cy="1031.0" r="6.1"/>
<circle class="r" cx="297.1" cy="1080.9" r="6.1"/>
<circle class="r" cx="297.1" cy="1158.9" r="6.1"/>
<circle class="r" cx="297.1" cy="1177.1" r="6.1"/>
<circle class="r" cx="203.4" cy="1087.2" r="6.1"/>
<circle class="r" cx="203.4" cy="1092.2" r="6.1"/>
<circle class="r" cx="203.4" cy="1102.9" r="6.1"/>
<circle class="r" cx="203.4" cy="1110.4" r="6.1"/>
<circle class="r" cx="203.4" cy="1118.0" r="6.1"/>
<circle class="r" cx="203.4" cy="1126.8" r="6.1"/>
<circle class="r" cx="203.4" cy="1134.3" r="6.1"/>
<circle class="r" cx="203.4" cy="1147.5" r="6.1"/>
<circle class="r" cx="203.4" cy="1160.8" r="6.1"/>
<circle class="r" cx="203.4" cy="1170.8" r="6.1"/>
<circle class="r" cx="203.4" cy="1194.1" r="6.1"/>
<circle class="r" cx="203.4" cy="1200.4" r="6.1"/>
<circle class="r" cx="304.3" cy="1058.9" r="6.1"/>
<circle class="r" cx="304.3" cy="1176.5" r="6.1"/>
<circle class="r" cx="311.5" cy="1068.3" r="6.1"/>
<circle class="r" cx="311.5" cy="1180.3" r="6.1"/>
<circle class="r" cx="318.7" cy="1076.5" r="6.1"/>
<circle class="r" cx="318.7" cy="1185.9" r="6.1"/>
<circle class="r" cx="325.9" cy="1086.5" r="6.1"/>
<circle class="r" cx="325.9" cy="1190.3" r="6.1"/>
<circle class="r" cx="333.1" cy="1096.6" r="6.1"/>
<circle class="r" cx="333.1" cy="1195.3" r="6.1"/>
<circle class="r" cx="340.3" cy="1105.4" r="6.1"/>
<circle class="r" cx="340.3" cy="1199.7" r="6.1"/>
<circle class="r" cx="347.5" cy="1114.2" r="6.1"/>
<circle class="r" cx="347.5" cy="1203.5" r="6.1"/>
<circle class="r" cx="354.7" cy="1122.4" r="6.1"/>
<circle class="r" cx="354.7" cy="1207.3" r="6.1"/>
<circle class="r" cx="361.9" cy="1129.9" r="6.1"/>
<circle class="r" cx="361.9" cy="1211.1" r="6.1"/>
<circle class="r" cx="369.1" cy="1138.1" r="6.1"/>
<circle class="r" cx="369.1" cy="1214.2" r="6.1"/>
<circle class="r" cx="376.3" cy="1145.0" r="6.1"/>
<circle class="r" cx="376.3" cy="1217.4" r="6.1"/>
<circle class="r" cx="383.5" cy="1152.6" r="6.1"/>
<circle class="r" cx="383.5" cy="1219.9" r="6.1"/>
<circle class="r" cx="390.7" cy="1159.5" r="6.1"/>
<circle class="r" cx="390.7" cy="1221.8" r="6.1"/>
<circle class="r" cx="397.9" cy="1165.8" r="6.1"/>
<circle class="r" cx="397.9" cy="1223.6" r="6.1"/>
<circle class="r" cx="405.1" cy="1172.7" r="6.1"/>
<circle class="r" cx="405.1" cy="1224.9" r="6.1"/>
<circle class="r" cx="412.3" cy="1179.0" r="6.1"/>
<circle class="r" cx="412.3" cy="1226.2" r="6.1"/>
<circle class="r" cx="419.5" cy="1185.3" r="6.1"/>
<circle class="r" cx="419.5" cy="1226.8" r="6.1"/>
<circle class="r" cx="426.7" cy="1191.0" r="6.1"/>
<circle class="r" cx="426.7" cy="1227.3" r="6.1"/>
<circle class="r" cx="433.9" cy="1197.6" r="6.1"/>
<circle class="r" cx="433.9" cy="1227.3" r="6.1"/>
<circle class="r" cx="441.1" cy="1204.0" r="6.1"/>
<circle class="r" cx="441.1" cy="1226.5" r="6.1"/>
<circle class="r" cx="448.3" cy="1211.5" r="6.1"/>
<circle class="r" cx="448.3" cy="1225.6" r="6.1"/>
<circle class="r" cx="455.5" cy="1215.0" r="6.1"/>
<circle class="r" cx="455.5" cy="1226.5" r="6.1"/>
<circle class="r" cx="462.7" cy="1222.4" r="6.1"/>
<circle class="r" cx="462.7" cy="1224.2" r="6.1"/>
<circle class="r" cx="469.9" cy="1225.2" r="6.1"/>
<circle class="r" cx="477.2" cy="1227.2" r="6.1"/>
<circle class="r" cx="484.4" cy="1228.9" r="6.1"/>
<circle class="r" cx="491.6" cy="1230.6" r="6.1"/>
<circle class="r" cx="498.8" cy="1232.5" r="6.1"/>
<circle class="r" cx="506.0" cy="1234.4" r="6.1"/>
<circle class="r" cx="513.2" cy="1236.4" r="6.1"/>
<circle class="r" cx="520.4" cy="1238.3" r="6.1"/>
<circle class="r" cx="527.6" cy="1240.2" r="6.1"/>
<circle class="r" cx="534.8" cy="1241.6" r="6.1"/>
<circle class="r" cx="542.0" cy="1242.9" r="6.1"/>
<circle class="r" cx="549.2" cy="1244.3" r="6.1"/>
<circle class="r" cx="556.4" cy="1245.6" r="6.1"/>
<circle class="r" cx="563.6" cy="1247.0" r="6.1"/>
<circle class="r" cx="570.8" cy="1248.1" r="6.1"/>
<circle class="r" cx="578.0" cy="1249.2" r="6.1"/>
<circle class="r" cx="585.2" cy="1250.2" r="6.1"/>
<circle class="r" cx="592.4" cy="1251.3" r="6.1"/>
<circle class="r" cx="599.6" cy="1252.4" r="6.1"/>
<circle class="r" cx="606.8" cy="1253.4" r="6.1"/>
<circle class="r" cx="614.0" cy="1254.3" r="6.1"/>
<circle class="r" cx="621.2" cy="1255.3" r="6.1"/>
<circle class="r" cx="628.4" cy="1256.2" r="6.1"/>
<circle class="r" cx="635.6" cy="1257.2" r="6.1"/>
<circle class="r" cx="642.8" cy="1258.0" r="6.1"/>
<circle class="r" cx="650.0" cy="1258.8" r="6.1"/>
<circle class="r" cx="657.3" cy="1259.7" r="6.1"/>
<circle class="r" cx="664.5" cy="1260.5" r="6.1"/>
<circle class="r" cx="671.7" cy="1261.3" r="6.1"/>
<circle class="r" cx="678.9" cy="1261.9" r="6.1"/>
<circle class="r" cx="686.1" cy="1262.5" r="6.1"/>
<circle class="r" cx="693.3" cy="1263.1" r="6.1"/>
<circle class="r" cx="700.5" cy="1263.7" r="6.1"/>
<circle class="r" cx="707.7" cy="1264.3" r="6.1"/>
<circle class="r" cx="714.9" cy="1264.8" r="6.1"/>
<circle class="r" cx="722.1" cy="1265.4" r="6.1"/>
<circle class="r" cx="729.3" cy="1265.9" r="6.1"/>
<circle class="r" cx="736.5" cy="1266.5" r="6.1"/>
<circle class="r" cx="743.7" cy="1267.0" r="6.1"/>
<circle class="r" cx="750.9" cy="1267.5" r="6.1"/>
<circle class="r" cx="758.1" cy="1268.0" r="6.1"/>
<circle class="r" cx="765.3" cy="1268.5" r="6.1"/>
<circle class="r" cx="772.5" cy="1269.0" r="6.1"/>
<circle class="r" cx="779.7" cy="1269.5" r="6.1"/>
<circle class="r" cx="786.9" cy="1269.8" r="6.1"/>
<circle class="r" cx="794.1" cy="1270.2" r="6.1"/>
<circle class="r" cx="801.3" cy="1270.5" r="6.1"/>
<circle class="r" cx="808.5" cy="1270.9" r="6.1"/>
<circle class="r" cx="815.7" cy="1271.2" r="6.1"/>
<circle class="r" cx="822.9" cy="1271.5" r="6.1"/>
<circle class="r" cx="830.1" cy="1271.9" r="6.1"/>
<circle class="r" cx="837.4" cy="1272.2" r="6.1"/>
<circle class="r" cx="844.6" cy="1272.6" r="6.1"/>
<circle class="r" cx="851.8" cy="1272.9" r="6.1"/>
<circle class="r" cx="859.0" cy="1273.1" r="6.1"/>
<circle class="r" cx="866.2" cy="1273.3" r="6.1"/>
<circle class="r" cx="873.4" cy="1273.6" r="6.1"/>
<circle class="r" cx="880.6" cy="1273.8" r="6.1"/>
<circle class="r" cx="887.8" cy="1274.0" r="6.1"/>
<circle class="r" cx="895.0" cy="1274.2" r="6.1"/>
<circle class="r" cx="902.2" cy="1274.4" r="6.1"/>
<circle class="r" cx="909.4" cy="1274.5" r="6.1"/>
<circle class="r" cx="916.6" cy="1274.7" r="6.1"/>
<circle class="r" cx="923.8" cy="1274.9" r="6.1"/>
<circle class="b" cx="1215.0" cy="724.9" r="6.1"/>
<circle class="b" cx="1215.0" cy="725.0" r="6.1"/>
<circle class="b" cx="1215.0" cy="731.3" r="6.1"/>
<circle class="b" cx="1215.0" cy="738.9" r="6.1"/>
<circle class="b" cx="1215.0" cy="782.9" r="6.1"/>
<circle class="b" cx="1215.0" cy="798.0" r="6.1"/>
<circle class="b" cx="1215.0" cy="818.1" r="6.1"/>
<circle class="b" cx="1215.0" cy="833.2" r="6.1"/>
<circle class="b" cx="1215.0" cy="839.5" r="6.1"/>
<circle class="b" cx="1215.0" cy="854.6" r="6.1"/>
<circle class="b" cx="1215.0" cy="865.9" r="6.1"/>
<circle class="b" cx="1215.0" cy="872.2" r="6.1"/>
<circle class="b" cx="1222.2" cy="679.6" r="6.1"/>
<circle class="b" cx="1222.2" cy="688.4" r="6.1"/>
<circle class="b" cx="1222.2" cy="699.7" r="6.1"/>
<circle class="b" cx="1222.2" cy="710.4" r="6.1"/>
<circle class="b" cx="1222.2" cy="731.9" r="6.1"/>
<circle class="b" cx="1222.2" cy="754.0" r="6.1"/>
<circle class="b" cx="1222.2" cy="770.3" r="6.1"/>
<circle class="b" cx="1222.2" cy="785.4" r="6.1"/>
<circle class="b" cx="1222.2" cy="793.0" r="6.1"/>
<circle class="b" cx="1222.2" cy="800.5" r="6.1"/>
<circle class="b" cx="1222.2" cy="808.1" r="6.1"/>
<circle class="b" cx="1222.2" cy="821.9" r="6.1"/>
<circle class="b" cx="1222.2" cy="828.2" r="6.1"/>
<circle class="b" cx="1229.5" cy="640.6" r="6.1"/>
<circle class="b" cx="1229.5" cy="648.2" r="6.1"/>
<circle class="b" cx="1229.5" cy="659.5" r="6.1"/>
<circle class="b" cx="1229.5" cy="668.3" r="6.1"/>
<circle class="b" cx="1229.5" cy="684.7" r="6.1"/>
<circle class="b" cx="1229.5" cy="694.7" r="6.1"/>
<circle class="b" cx="1229.5" cy="724.9" r="6.1"/>
<circle class="b" cx="1229.5" cy="725.0" r="6.1"/>
<circle class="b" cx="1229.5" cy="732.6" r="6.1"/>
<circle class="b" cx="1229.5" cy="740.1" r="6.1"/>
<circle class="b" cx="1229.5" cy="747.0" r="6.1"/>
<circle class="b" cx="1229.5" cy="754.0" r="6.1"/>
<circle class="b" cx="1229.5" cy="762.1" r="6.1"/>
<circle class="b" cx="1229.5" cy="770.3" r="6.1"/>
<circle class="b" cx="1229.5" cy="788.6" r="6.1"/>
<circle class="b" cx="1229.5" cy="793.0" r="6.1"/>
<circle class="b" cx="1236.7" cy="604.2" r="6.1"/>
<circle class="b" cx="1236.7" cy="615.5" r="6.1"/>
<circle class="b" cx="1236.7" cy="624.3" r="6.1"/>
<circle class="b" cx="1236.7" cy="650.7" r="6.1"/>
<circle class="b" cx="1236.7" cy="659.5" r="6.1"/>
<circle class="b" cx="1236.7" cy="668.3" r="6.1"/>
<circle class="b" cx="1236.7" cy="684.7" r="6.1"/>
<circle class="b" cx="1236.7" cy="692.2" r="6.1"/>
<circle class="b" cx="1236.7" cy="702.3" r="6.1"/>
<circle class="b" cx="1236.7" cy="754.0" r="6.1"/>
<circle class="b" cx="1243.9" cy="570.2" r="6.1"/>
<circle class="b" cx="1243.9" cy="576.5" r="6.1"/>
<circle class="b" cx="1243.9" cy="584.0" r="6.1"/>
<circle class="b" cx="1243.9" cy="603.5" r="6.1"/>
<circle class="b" cx="1243.9" cy="615.5" r="6.1"/>
<circle class="b" cx="1243.9" cy="621.8" r="6.1"/>
<circle class="b" cx="1243.9" cy="631.8" r="6.1"/>
<circle class="b" cx="1243.9" cy="646.9" r="6.1"/>
<circle class="b" cx="1243.9" cy="658.2" r="6.1"/>
<circle class="b" cx="1243.9" cy="665.8" r="6.1"/>
<circle class="b" cx="1243.9" cy="706.0" r="6.1"/>
<circle class="b" cx="1243.9" cy="713.6" r="6.1"/>
<circle class="b" cx="1243.9" cy="719.9" r="6.1"/>
<circle class="b" cx="1251.2" cy="540.0" r="6.1"/>
<circle class="b" cx="1251.2" cy="585.3" r="6.1"/>
<circle class="b" cx="1251.2" cy="646.3" r="6.1"/>
<circle class="b" cx="1251.2" cy="692.8" r="6.1"/>
<circle class="b" cx="1193.2" cy="892.3" r="6.1"/>
<circle class="b" cx="1193.2" cy="894.8" r="6.1"/>
<circle class="b" cx="1193.2" cy="890.0" r="6.1"/>
<circle class="b" cx="1193.2" cy="895.0" r="6.1"/>
<circle class="b" cx="1193.2" cy="989.4" r="6.1"/>
<circle class="b" cx="1193.2" cy="991.9" r="6.1"/>
<circle class="b" cx="1193.2" cy="1017.0" r="6.1"/>
<circle class="b" cx="1200.5" cy="833.2" r="6.1"/>
<circle class="b" cx="1200.5" cy="840.8" r="6.1"/>
<circle class="b" cx="1200.5" cy="852.1" r="6.1"/>
<circle class="b" cx="1200.5" cy="864.7" r="6.1"/>
<circle class="b" cx="1200.5" cy="870.9" r="6.1"/>
<circle class="b" cx="1200.5" cy="911.4" r="6.1"/>
<circle class="b" cx="1200.5" cy="918.9" r="6.1"/>
<circle class="b" cx="1200.5" cy="925.2" r="6.1"/>
<circle class="b" cx="1200.5" cy="944.1" r="6.1"/>
<circle class="b" cx="1200.5" cy="949.7" r="6.1"/>
<circle class="b" cx="1207.7" cy="772.8" r="6.1"/>
<circle class="b" cx="1207.7" cy="791.1" r="6.1"/>
<circle class="b" cx="1207.7" cy="799.2" r="6.1"/>
<circle class="b" cx="1207.7" cy="806.8" r="6.1"/>
<circle class="b" cx="1207.7" cy="820.6" r="6.1"/>
<circle class="b" cx="1207.7" cy="833.2" r="6.1"/>
<circle class="b" cx="1207.7" cy="840.8" r="6.1"/>
<circle class="b" cx="1207.7" cy="848.3" r="6.1"/>
<circle class="b" cx="1207.7" cy="865.9" r="6.1"/>
<circle class="b" cx="1207.7" cy="872.2" r="6.1"/>
<circle class="b" cx="1207.7" cy="882.3" r="6.1"/>
<circle class="b" cx="1207.7" cy="889.8" r="6.1"/>
<circle class="b" cx="1207.7" cy="897.4" r="6.1"/>
<circle class="b" cx="1207.7" cy="904.9" r="6.1"/>
<circle class="b" cx="1207.7" cy="897.5" r="6.1"/>
<circle class="b" cx="1207.7" cy="905.1" r="6.1"/>
<circle class="b" cx="1207.7" cy="913.9" r="6.1"/>
<circle class="b" cx="1207.7" cy="922.7" r="6.1"/>
<circle class="b" cx="1186.0" cy="954.8" r="6.1"/>
<circle class="b" cx="1186.0" cy="963.0" r="6.1"/>
<circle class="b" cx="1186.0" cy="971.8" r="6.1"/>
<circle class="b" cx="1186.0" cy="988.1" r="6.1"/>
<circle class="b" cx="1186.0" cy="996.9" r="6.1"/>
<circle class="b" cx="1186.0" cy="1005.7" r="6.1"/>
<circle class="b" cx="1186.0" cy="1014.5" r="6.1"/>
<circle class="b" cx="1186.0" cy="1023.3" r="6.1"/>
<circle class="b" cx="1186.0" cy="1032.1" r="6.1"/>
<circle class="b" cx="1186.0" cy="1040.9" r="6.1"/>
<circle class="b" cx="1186.0" cy="1049.7" r="6.1"/>
<circle class="b" cx="1186.0" cy="1058.6" r="6.1"/>
<circle class="b" cx="1186.0" cy="1067.4" r="6.1"/>
<circle class="b" cx="1186.0" cy="1076.2" r="6.1"/>
<circle class="b" cx="1186.0" cy="1081.2" r="6.1"/>
<circle class="b" cx="1186.0" cy="1067.5" r="6.1"/>
<circle class="b" cx="1186.0" cy="1072.6" r="6.1"/>
<circle class="b" cx="1178.7" cy="1022.1" r="6.1"/>
<circle class="b" cx="1178.7" cy="1042.8" r="6.1"/>
<circle class="b" cx="1178.7" cy="1078.9" r="6.1"/>
<circle class="b" cx="1178.7" cy="1134.2" r="6.1"/>
<circle class="b" cx="1164.2" cy="1129.8" r="6.1"/>
<circle class="b" cx="1171.5" cy="1083.3" r="6.1"/>
<circle class="b" cx="1171.5" cy="1182.6" r="6.1"/>
<circle class="b" cx="1258.4" cy="528.3" r="6.1"/>
<circle class="b" cx="1258.4" cy="653.8" r="6.1"/>
<circle class="b" cx="1265.7" cy="498.5" r="6.1"/>
<circle class="b" cx="1265.7" cy="633.7" r="6.1"/>
<circle class="b" cx="1272.9" cy="471.4" r="6.1"/>
<circle class="b" cx="1272.9" cy="615.0" r="6.1"/>
<circle class="b" cx="1280.2" cy="445.9" r="6.1"/>
<circle class="b" cx="1280.2" cy="597.9" r="6.1"/>
<circle class="b" cx="1287.4" cy="422.3" r="6.1"/>
<circle class="b" cx="1287.4" cy="580.4" r="6.1"/>
<circle class="b" cx="1294.7" cy="401.8" r="6.1"/>
<circle class="b" cx="1294.7" cy="565.3" r="6.1"/>
<circle class="b" cx="1301.9" cy="382.7" r="6.1"/>
<circle class="b" cx="1301.9" cy="549.6" r="6.1"/>
<circle class="b" cx="1309.1" cy="365.5" r="6.1"/>
<circle class="b" cx="1309.1" cy="533.7" r="6.1"/>
<circle class="b" cx="1316.4" cy="350.0" r="6.1"/>
<circle class="b" cx="1316.4" cy="519.5" r="6.1"/>
<circle class="b" cx="1323.6" cy="336.8" r="6.1"/>
<circle class="b" cx="1323.6" cy="505.7" r="6.1"/>
<circle class="b" cx="1330.9" cy="324.8" r="6.1"/>
<circle class="b" cx="1330.9" cy="490.3" r="6.1"/>
<circle class="b" cx="1338.1" cy="316.0" r="6.1"/>
<circle class="b" cx="1338.1" cy="476.1" r="6.1"/>
<circle class="b" cx="1345.4" cy="306.6" r="6.1"/>
<circle class="b" cx="1345.4" cy="462.9" r="6.1"/>
<circle class="b" cx="1352.6" cy="299.7" r="6.1"/>
<circle class="b" cx="1352.6" cy="449.7" r="6.1"/>
<circle class="b" cx="1359.9" cy="294.0" r="6.1"/>
<circle class="b" cx="1359.9" cy="435.9" r="6.1"/>
<circle class="b" cx="1367.1" cy="290.0" r="6.1"/>
<circle class="b" cx="1367.1" cy="421.9" r="6.1"/>
<circle class="b" cx="1374.3" cy="287.1" r="6.1"/>
<circle class="b" cx="1374.3" cy="407.9" r="6.1"/>
<circle class="b" cx="1381.6" cy="284.6" r="6.1"/>
<circle class="b" cx="1381.6" cy="395.5" r="6.1"/>
<circle class="b" cx="1388.8" cy="284.6" r="6.1"/>
<circle class="b" cx="1388.8" cy="380.2" r="6.1"/>
<circle class="b" cx="1396.1" cy="287.7" r="6.1"/>
<circle class="b" cx="1396.1" cy="363.0" r="6.1"/>
<circle class="b" cx="1403.3" cy="295.3" r="6.1"/>
<circle class="b" cx="1403.3" cy="344.1" r="6.1"/>
<circle class="b" cx="1410.6" cy="290.9" r="6.1"/>
<circle class="b" cx="1410.6" cy="334.0" r="6.1"/>
<circle class="b" cx="1417.8" cy="302.2" r="6.1"/>
<circle class="b" cx="1417.8" cy="313.5" r="6.1"/>
<circle class="b" cx="1272.9" cy="469.8" r="6.1"/>
<circle class="b" cx="1272.9" cy="473.2" r="6.1"/>
<circle class="b" cx="1272.9" cy="612.8" r="6.1"/>
<circle class="b" cx="1272.9" cy="617.4" r="6.1"/>
<circle class="b" cx="1425.1" cy="298.1" r="6.1"/>
<circle class="b" cx="1425.1" cy="305.0" r="6.1"/>
<circle class="b" cx="1432.3" cy="293.4" r="6.1"/>
<circle class="b" cx="1432.3" cy="298.9" r="6.1"/>
<circle class="b" cx="1439.6" cy="289.3" r="6.1"/>
<circle class="b" cx="1439.6" cy="293.7" r="6.1"/>
<circle class="b" cx="1446.8" cy="285.1" r="6.1"/>
<circle class="b" cx="1446.8" cy="288.8" r="6.1"/>
<circle class="b" cx="1454.0" cy="281.3" r="6.1"/>
<circle class="b" cx="1454.0" cy="284.4" r="6.1"/>
<circle class="b" cx="1461.3" cy="277.4" r="6.1"/>
<circle class="b" cx="1461.3" cy="280.1" r="6.1"/>
<circle class="b" cx="1468.5" cy="273.4" r="6.1"/>
<circle class="b" cx="1468.5" cy="275.8" r="6.1"/>
<circle class="b" cx="1475.8" cy="269.9" r="6.1"/>
<circle class="b" cx="1475.8" cy="272.0" r="6.1"/>
<circle class="b" cx="1483.0" cy="266.5" r="6.1"/>
<circle class="b" cx="1483.0" cy="268.4" r="6.1"/>
<circle class="b" cx="1490.3" cy="263.0" r="6.1"/>
<circle class="b" cx="1490.3" cy="264.7" r="6.1"/>
<circle class="b" cx="1497.5" cy="259.6" r="6.1"/>
<circle class="b" cx="1497.5" cy="261.2" r="6.1"/>
<circle class="b" cx="1504.8" cy="256.5" r="6.1"/>
<circle class="b" cx="1504.8" cy="258.0" r="6.1"/>
<circle class="b" cx="1512.0" cy="253.3" r="6.1"/>
<circle class="b" cx="1512.0" cy="254.7" r="6.1"/>
<circle class="b" cx="1519.2" cy="250.1" r="6.1"/>
<circle class="b" cx="1519.2" cy="251.5" r="6.1"/>
<circle class="b" cx="1526.5" cy="247.4" r="6.1"/>
<circle class="b" cx="1526.5" cy="248.7" r="6.1"/>
<circle class="b" cx="1533.7" cy="244.9" r="6.1"/>
<circle class="b" cx="1533.7" cy="246.1" r="6.1"/>
<circle class="b" cx="1541.0" cy="242.3" r="6.1"/>
<circle class="b" cx="1541.0" cy="243.4" r="6.1"/>
<circle class="b" cx="1548.2" cy="239.8" r="6.1"/>
<circle class="b" cx="1548.2" cy="240.9" r="6.1"/>
<circle class="b" cx="1555.5" cy="237.5" r="6.1"/>
<circle class="b" cx="1555.5" cy="238.5" r="6.1"/>
<circle class="b" cx="1562.7" cy="235.2" r="6.1"/>
<circle class="b" cx="1562.7" cy="236.1" r="6.1"/>
<circle class="b" cx="1570.0" cy="232.9" r="6.1"/>
<circle class="b" cx="1570.0" cy="233.8" r="6.1"/>
<circle class="b" cx="1577.2" cy="230.8" r="6.1"/>
<circle class="b" cx="1577.2" cy="231.7" r="6.1"/>
<circle class="b" cx="1584.5" cy="228.8" r="6.1"/>
<circle class="b" cx="1584.5" cy="229.7" r="6.1"/>
<circle class="b" cx="1591.7" cy="226.8" r="6.1"/>
<circle class="b" cx="1591.7" cy="227.6" r="6.1"/>
<circle class="b" cx="1598.9" cy="225.0" r="6.1"/>
<circle class="b" cx="1598.9" cy="225.7" r="6.1"/>
<circle class="b" cx="1606.2" cy="223.3" r="6.1"/>
<circle class="b" cx="1606.2" cy="224.1" r="6.1"/>
<circle class="b" cx="1613.4" cy="221.7" r="6.1"/>
<circle class="b" cx="1613.4" cy="222.4" r="6.1"/>
<circle class="b" cx="1620.7" cy="220.1" r="6.1"/>
<circle class="b" cx="1620.7" cy="220.8" r="6.1"/>
<circle class="b" cx="1627.9" cy="218.5" r="6.1"/>
<circle class="b" cx="1627.9" cy="219.2" r="6.1"/>
<circle class="b" cx="1635.2" cy="216.9" r="6.1"/>
<circle class="b" cx="1635.2" cy="217.5" r="6.1"/>
<circle class="b" cx="1642.4" cy="215.3" r="6.1"/>
<circle class="b" cx="1642.4" cy="215.9" r="6.1"/>
<circle class="b" cx="1649.7" cy="213.8" r="6.1"/>
<circle class="b" cx="1649.7" cy="214.4" r="6.1"/>
<circle class="b" cx="1656.9" cy="212.6" r="6.1"/>
<circle class="b" cx="1656.9" cy="213.1" r="6.1"/>
<circle class="b" cx="1664.2" cy="211.3" r="6.1"/>
<circle class="b" cx="1664.2" cy="211.8" r="6.1"/>
<circle class="b" cx="1671.4" cy="210.0" r="6.1"/>
<circle class="b" cx="1671.4" cy="210.5" r="6.1"/>
<circle class="b" cx="1678.6" cy="208.8" r="6.1"/>
<circle class="b" cx="1678.6" cy="209.2" r="6.1"/>
<circle class="b" cx="1685.9" cy="207.5" r="6.1"/>
<circle class="b" cx="1685.9" cy="208.0" r="6.1"/>
<circle class="b" cx="1693.1" cy="206.3" r="6.1"/>
<circle class="b" cx="1693.1" cy="206.8" r="6.1"/>
<circle class="b" cx="1700.4" cy="205.4" r="6.1"/>
<circle class="b" cx="1700.4" cy="205.8" r="6.1"/>
<circle class="b" cx="1707.6" cy="204.4" r="6.1"/>
<circle class="b" cx="1707.6" cy="204.8" r="6.1"/>
<circle class="b" cx="1714.9" cy="203.5" r="6.1"/>
<circle class="b" cx="1714.9" cy="203.8" r="6.1"/>
<circle class="b" cx="1722.1" cy="202.5" r="6.1"/>
<circle class="b" cx="1722.1" cy="202.9" r="6.1"/>
<circle class="b" cx="1729.4" cy="201.5" r="6.1"/>
<circle class="b" cx="1729.4" cy="201.9" r="6.1"/>
<circle class="b" cx="1736.6" cy="200.7" r="6.1"/>
<circle class="b" cx="1736.6" cy="201.1" r="6.1"/>
<circle class="b" cx="1743.8" cy="200.0" r="6.1"/>
<circle class="b" cx="1743.8" cy="200.3" r="6.1"/>
<circle class="b" cx="1751.1" cy="199.2" r="6.1"/>
<circle class="b" cx="1751.1" cy="199.5" r="6.1"/>
<circle class="b" cx="1758.3" cy="198.4" r="6.1"/>
<circle class="b" cx="1758.3" cy="198.7" r="6.1"/>
<circle class="b" cx="1765.6" cy="197.6" r="6.1"/>
<circle class="b" cx="1765.6" cy="197.9" r="6.1"/>
<circle class="b" cx="1772.8" cy="196.9" r="6.1"/>
<circle class="b" cx="1772.8" cy="197.1" r="6.1"/>
<circle class="b" cx="1780.1" cy="196.2" r="6.1"/>
<circle class="b" cx="1780.1" cy="196.5" r="6.1"/>
<circle class="b" cx="1787.3" cy="195.6" r="6.1"/>
<circle class="b" cx="1787.3" cy="195.8" r="6.1"/>
<circle class="b" cx="1794.6" cy="194.9" r="6.1"/>
<circle class="b" cx="1794.6" cy="195.1" r="6.1"/>
<circle class="b" cx="1801.8" cy="194.2" r="6.1"/>
<circle class="b" cx="1801.8" cy="194.5" r="6.1"/>
<circle class="b" cx="1809.0" cy="193.6" r="6.1"/>
<circle class="b" cx="1809.0" cy="193.8" r="6.1"/>
<circle class="b" cx="1816.3" cy="193.0" r="6.1"/>
<circle class="b" cx="1816.3" cy="193.2" r="6.1"/>
<circle class="b" cx="1823.5" cy="192.4" r="6.1"/>
<circle class="b" cx="1823.5" cy="192.6" r="6.1"/>
<circle class="b" cx="1830.8" cy="191.8" r="6.1"/>
<circle class="b" cx="1830.8" cy="191.9" r="6.1"/>
<circle class="b" cx="1838.0" cy="191.2" r="6.1"/>
<circle class="b" cx="1838.0" cy="191.3" r="6.1"/>
<circle class="b" cx="1845.3" cy="190.5" r="6.1"/>
<circle class="b" cx="1845.3" cy="190.7" r="6.1"/>
<circle class="b" cx="1852.5" cy="189.9" r="6.1"/>
<circle class="b" cx="1852.5" cy="190.1" r="6.1"/>
<circle class="b" cx="1859.8" cy="189.5" r="6.1"/>
<circle class="b" cx="1859.8" cy="189.7" r="6.1"/>
<circle class="b" cx="1867.0" cy="189.1" r="6.1"/>
<circle class="b" cx="1867.0" cy="189.2" r="6.1"/>
<circle class="b" cx="1874.3" cy="188.7" r="6.1"/>
<circle class="b" cx="1874.3" cy="188.8" r="6.1"/>
<circle class="b" cx="1881.5" cy="188.2" r="6.1"/>
<circle class="b" cx="1881.5" cy="188.4" r="6.1"/>
<circle class="r" cx="1157.0" cy="1220.7" r="6.1"/>
<circle class="r" cx="1164.2" cy="1258.8" r="6.1"/>
<circle class="r" cx="1171.5" cy="1189.0" r="6.1"/>
<circle class="r" cx="1171.5" cy="1260.1" r="6.1"/>
<circle class="r" cx="1178.7" cy="1144.1" r="6.1"/>
<circle class="r" cx="1178.7" cy="1195.7" r="6.1"/>
<circle class="r" cx="1178.7" cy="1236.9" r="6.1"/>
<circle class="r" cx="1178.7" cy="1251.9" r="6.1"/>
<circle class="r" cx="1186.0" cy="1107.0" r="6.1"/>
<circle class="r" cx="1186.0" cy="1113.3" r="6.1"/>
<circle class="r" cx="1186.0" cy="1125.2" r="6.1"/>
<circle class="r" cx="1186.0" cy="1133.4" r="6.1"/>
<circle class="r" cx="1186.0" cy="1139.7" r="6.1"/>
<circle class="r" cx="1186.0" cy="1153.5" r="6.1"/>
<circle class="r" cx="1186.0" cy="1159.8" r="6.1"/>
<circle class="r" cx="1186.0" cy="1165.5" r="6.1"/>
<circle class="r" cx="1186.0" cy="1179.5" r="6.1"/>
<circle class="r" cx="1186.0" cy="1196.9" r="6.1"/>
<circle class="r" cx="1186.0" cy="1203.5" r="6.1"/>
<circle class="r" cx="1186.0" cy="1209.7" r="6.1"/>
<circle class="r" cx="1186.0" cy="1216.0" r="6.1"/>
<circle class="r" cx="1186.0" cy="1222.3" r="6.1"/>
<circle class="r" cx="1186.0" cy="1228.6" r="6.1"/>
<circle class="r" cx="1186.0" cy="1234.9" r="6.1"/>
<circle class="r" cx="1186.0" cy="1238.5" r="6.1"/>
<circle class="r" cx="1193.2" cy="1076.4" r="6.1"/>
<circle class="r" cx="1193.2" cy="1163.3" r="6.1"/>
<circle class="r" cx="1193.2" cy="1225.5" r="6.1"/>
<circle class="r" cx="1200.5" cy="1079.5" r="6.1"/>
<circle class="r" cx="1200.5" cy="1083.5" r="6.1"/>
<circle class="r" cx="1200.5" cy="1088.3" r="6.1"/>
<circle class="r" cx="1200.5" cy="1111.3" r="6.1"/>
<circle class="r" cx="1200.5" cy="1117.7" r="6.1"/>
<circle class="r" cx="1200.5" cy="1124.3" r="6.1"/>
<circle class="r" cx="1200.5" cy="1163.9" r="6.1"/>
<circle class="r" cx="1200.5" cy="1172.5" r="6.1"/>
<circle class="r" cx="1200.5" cy="1196.2" r="6.1"/>
<circle class="r" cx="1200.5" cy="1202.2" r="6.1"/>
<circle class="r" cx="1200.5" cy="1207.9" r="6.1"/>
<circle class="r" cx="1207.7" cy="1038.9" r="6.1"/>
<circle class="r" cx="1207.7" cy="1046.4" r="6.1"/>
<circle class="r" cx="1207.7" cy="1052.3" r="6.1"/>
<circle class="r" cx="1207.7" cy="1060.0" r="6.1"/>
<circle class="r" cx="1207.7" cy="1063.5" r="6.1"/>
<circle class="r" cx="1207.7" cy="1088.4" r="6.1"/>
<circle class="r" cx="1207.7" cy="1108.5" r="6.1"/>
<circle class="r" cx="1207.7" cy="1114.0" r="6.1"/>
<circle class="r" cx="1207.7" cy="1116.2" r="6.1"/>
<circle class="r" cx="1207.7" cy="1133.6" r="6.1"/>
<circle class="r" cx="1207.7" cy="1136.5" r="6.1"/>
<circle class="r" cx="1207.7" cy="1143.5" r="6.1"/>
<circle class="r" cx="1207.7" cy="1149.7" r="6.1"/>
<circle class="r" cx="1207.7" cy="1155.7" r="6.1"/>
<circle class="r" cx="1207.7" cy="1177.7" r="6.1"/>
<circle class="r" cx="1207.7" cy="1183.3" r="6.1"/>
<circle class="r" cx="1207.7" cy="1189.6" r="6.1"/>
<circle class="r" cx="1207.7" cy="1196.5" r="6.1"/>
<circle class="r" cx="1207.7" cy="1203.5" r="6.1"/>
<circle class="r" cx="1215.0" cy="1031.0" r="6.1"/>
<circle class="r" cx="1215.0" cy="1037.0" r="6.1"/>
<circle class="r" cx="1215.0" cy="1042.0" r="6.1"/>
<circle class="r" cx="1215.0" cy="1049.0" r="6.1"/>
<circle class="r" cx="1215.0" cy="1058.5" r="6.1"/>
<circle class="r" cx="1215.0" cy="1077.0" r="6.1"/>
<circle class="r" cx="1215.0" cy="1105.0" r="6.1"/>
<circle class="r" cx="1215.0" cy="1111.4" r="6.1"/>
<circle class="r" cx="1215.0" cy="1117.7" r="6.1"/>
<circle class="r" cx="1215.0" cy="1124.0" r="6.1"/>
<circle class="r" cx="1215.0" cy="1130.3" r="6.1"/>
<circle class="r" cx="1215.0" cy="1136.5" r="6.1"/>
<circle class="r" cx="1215.0" cy="1139.4" r="6.1"/>
<circle class="r" cx="1215.0" cy="1168.9" r="6.1"/>
<circle class="r" cx="1215.0" cy="1175.2" r="6.1"/>
<circle class="r" cx="1215.0" cy="1181.4" r="6.1"/>
<circle class="r" cx="1215.0" cy="1187.7" r="6.1"/>
<circle class="r" cx="1215.0" cy="1194.3" r="6.1"/>
<circle class="r" cx="1222.2" cy="1030.0" r="6.1"/>
<circle class="r" cx="1222.2" cy="1036.0" r="6.1"/>
<circle class="r" cx="1222.2" cy="1043.0" r="6.1"/>
<circle class="r" cx="1222.2" cy="1057.0" r="6.1"/>
<circle class="r" cx="1222.2" cy="1069.7" r="6.1"/>
<circle class="r" cx="1222.2" cy="1074.7" r="6.1"/>
<circle class="r" cx="1222.2" cy="1080.1" r="6.1"/>
<circle class="r" cx="1222.2" cy="1102.2" r="6.1"/>
<circle class="r" cx="1222.2" cy="1108.2" r="6.1"/>
<circle class="r" cx="1222.2" cy="1120.2" r="6.1"/>
<circle class="r" cx="1222.2" cy="1126.5" r="6.1"/>
<circle class="r" cx="1222.2" cy="1132.8" r="6.1"/>
<circle class="r" cx="1222.2" cy="1139.1" r="6.1"/>
<circle class="r" cx="1222.2" cy="1155.1" r="6.1"/>
<circle class="r" cx="1222.2" cy="1162.6" r="6.1"/>
<circle class="r" cx="1222.2" cy="1168.9" r="6.1"/>
<circle class="r" cx="1222.2" cy="1175.2" r="6.1"/>
<circle class="r" cx="1222.2" cy="1181.4" r="6.1"/>
<circle class="r" cx="1222.2" cy="1187.4" r="6.1"/>
<circle class="r" cx="1229.5" cy="1027.8" r="6.1"/>
<circle class="r" cx="1229.5" cy="1056.0" r="6.1"/>
<circle class="r" cx="1229.5" cy="1067.5" r="6.1"/>
<circle class="r" cx="1229.5" cy="1074.4" r="6.1"/>
<circle class="r" cx="1229.5" cy="1096.5" r="6.1"/>
<circle class="r" cx="1229.5" cy="1104.8" r="6.1"/>
<circle class="r" cx="1229.5" cy="1125.2" r="6.1"/>
<circle class="r" cx="1229.5" cy="1131.5" r="6.1"/>
<circle class="r" cx="1229.5" cy="1137.8" r="6.1"/>
<circle class="r" cx="1229.5" cy="1153.8" r="6.1"/>
<circle class="r" cx="1229.5" cy="1162.6" r="6.1"/>
<circle class="r" cx="1229.5" cy="1168.9" r="6.1"/>
<circle class="r" cx="1229.5" cy="1175.2" r="6.1"/>
<circle class="r" cx="1229.5" cy="1181.8" r="6.1"/>
<circle class="r" cx="1236.7" cy="1035.0" r="6.1"/>
<circle class="r" cx="1236.7" cy="1088.9" r="6.1"/>
<circle class="r" cx="1236.7" cy="1095.2" r="6.1"/>
<circle class="r" cx="1236.7" cy="1101.5" r="6.1"/>
<circle class="r" cx="1236.7" cy="1119.9" r="6.1"/>
<circle class="r" cx="1236.7" cy="1125.8" r="6.1"/>
<circle class="r" cx="1236.7" cy="1132.1" r="6.1"/>
<circle class="r" cx="1236.7" cy="1138.4" r="6.1"/>
<circle class="r" cx="1236.7" cy="1144.7" r="6.1"/>
<circle class="r" cx="1236.7" cy="1150.4" r="6.1"/>
<circle class="r" cx="1236.7" cy="1156.0" r="6.1"/>
<circle class="r" cx="1236.7" cy="1177.7" r="6.1"/>
<circle class="r" cx="1243.9" cy="1039.8" r="6.1"/>
<circle class="r" cx="1243.9" cy="1046.8" r="6.1"/>
<circle class="r" cx="1243.9" cy="1053.7" r="6.1"/>
<circle class="r" cx="1243.9" cy="1069.4" r="6.1"/>
<circle class="r" cx="1243.9" cy="1096.3" r="6.1"/>
<circle class="r" cx="1243.9" cy="1100.1" r="6.1"/>
<circle class="r" cx="1243.9" cy="1106.0" r="6.1"/>
<circle class="r" cx="1243.9" cy="1148.8" r="6.1"/>
<circle class="r" cx="1243.9" cy="1155.1" r="6.1"/>
<circle class="r" cx="1243.9" cy="1162.6" r="6.1"/>
<circle class="r" cx="1243.9" cy="1168.2" r="6.1"/>
<circle class="r" cx="1243.9" cy="1173.6" r="6.1"/>
<circle class="r" cx="1251.2" cy="1041.9" r="6.1"/>
<circle class="r" cx="1251.2" cy="1085.3" r="6.1"/>
<circle class="r" cx="1251.2" cy="1154.5" r="6.1"/>
<circle class="r" cx="1251.2" cy="1170.5" r="6.1"/>
<circle class="r" cx="1258.4" cy="1056.9" r="6.1"/>
<circle class="r" cx="1258.4" cy="1166.9" r="6.1"/>
<circle class="r" cx="1265.7" cy="1058.8" r="6.1"/>
<circle class="r" cx="1265.7" cy="1166.3" r="6.1"/>
<circle class="r" cx="1272.9" cy="1059.5" r="6.1"/>
<circle class="r" cx="1272.9" cy="1168.2" r="6.1"/>
<circle class="r" cx="1280.2" cy="1063.7" r="6.1"/>
<circle class="r" cx="1280.2" cy="1170.1" r="6.1"/>
<circle class="r" cx="1287.4" cy="1067.8" r="6.1"/>
<circle class="r" cx="1287.4" cy="1172.6" r="6.1"/>
<circle class="r" cx="1294.7" cy="1072.6" r="6.1"/>
<circle class="r" cx="1294.7" cy="1175.1" r="6.1"/>
<circle class="r" cx="1301.9" cy="1077.0" r="6.1"/>
<circle class="r" cx="1301.9" cy="1177.6" r="6.1"/>
<circle class="r" cx="1309.1" cy="1082.6" r="6.1"/>
<circle class="r" cx="1309.1" cy="1179.5" r="6.1"/>
<circle class="r" cx="1316.4" cy="1088.3" r="6.1"/>
<circle class="r" cx="1316.4" cy="1181.4" r="6.1"/>
<circle class="r" cx="1323.6" cy="1094.0" r="6.1"/>
<circle class="r" cx="1323.6" cy="1183.3" r="6.1"/>
<circle class="r" cx="1330.9" cy="1100.3" r="6.1"/>
<circle class="r" cx="1330.9" cy="1184.9" r="6.1"/>
<circle class="r" cx="1338.1" cy="1105.9" r="6.1"/>
<circle class="r" cx="1338.1" cy="1186.2" r="6.1"/>
<circle class="r" cx="1345.4" cy="1111.6" r="6.1"/>
<circle class="r" cx="1345.4" cy="1187.0" r="6.1"/>
<circle class="r" cx="1352.6" cy="1117.9" r="6.1"/>
<circle class="r" cx="1352.6" cy="1187.8" r="6.1"/>
<circle class="r" cx="1359.9" cy="1124.2" r="6.1"/>
<circle class="r" cx="1359.9" cy="1188.3" r="6.1"/>
<circle class="r" cx="1367.1" cy="1129.8" r="6.1"/>
<circle class="r" cx="1367.1" cy="1188.7" r="6.1"/>
<circle class="r" cx="1374.3" cy="1135.8" r="6.1"/>
<circle class="r" cx="1374.3" cy="1188.8" r="6.1"/>
<circle class="r" cx="1381.6" cy="1142.0" r="6.1"/>
<circle class="r" cx="1381.6" cy="1188.9" r="6.1"/>
<circle class="r" cx="1388.8" cy="1149.0" r="6.1"/>
<circle class="r" cx="1388.8" cy="1187.9" r="6.1"/>
<circle class="r" cx="1396.1" cy="1157.2" r="6.1"/>
<circle class="r" cx="1396.1" cy="1186.5" r="6.1"/>
<circle class="r" cx="1403.3" cy="1164.1" r="6.1"/>
<circle class="r" cx="1403.3" cy="1184.8" r="6.1"/>
<circle class="r" cx="1410.6" cy="1169.5" r="6.1"/>
<circle class="r" cx="1410.6" cy="1185.9" r="6.1"/>
<circle class="r" cx="1417.8" cy="1179.0" r="6.1"/>
<circle class="r" cx="1417.8" cy="1181.8" r="6.1"/>
<circle class="r" cx="1425.1" cy="1182.4" r="6.1"/>
<circle class="r" cx="1432.3" cy="1184.5" r="6.1"/>
<circle class="r" cx="1439.6" cy="1186.5" r="6.1"/>
<circle class="r" cx="1446.8" cy="1188.6" r="6.1"/>
<circle class="r" cx="1454.0" cy="1190.6" r="6.1"/>
<circle class="r" cx="1461.3" cy="1192.7" r="6.1"/>
<circle class="r" cx="1468.5" cy="1194.7" r="6.1"/>
<circle class="r" cx="1475.8" cy="1196.8" r="6.1"/>
<circle class="r" cx="1483.0" cy="1198.8" r="6.1"/>
<circle class="r" cx="1490.3" cy="1200.3" r="6.1"/>
<circle class="r" cx="1497.5" cy="1201.8" r="6.1"/>
<circle class="r" cx="1504.8" cy="1203.3" r="6.1"/>
<circle class="r" cx="1512.0" cy="1204.8" r="6.1"/>
<circle class="r" cx="1519.2" cy="1206.3" r="6.1"/>
<circle class="r" cx="1526.5" cy="1207.4" r="6.1"/>
<circle class="r" cx="1533.7" cy="1208.5" r="6.1"/>
<circle class="r" cx="1541.0" cy="1209.5" r="6.1"/>
<circle class="r" cx="1548.2" cy="1210.6" r="6.1"/>
<circle class="r" cx="1555.5" cy="1211.7" r="6.1"/>
<circle class="r" cx="1562.7" cy="1212.8" r="6.1"/>
<circle class="r" cx="1570.0" cy="1213.9" r="6.1"/>
<circle class="r" cx="1577.2" cy="1215.0" r="6.1"/>
<circle class="r" cx="1584.5" cy="1216.1" r="6.1"/>
<circle class="r" cx="1591.7" cy="1217.2" r="6.1"/>
<circle class="r" cx="1598.9" cy="1218.2" r="6.1"/>
<circle class="r" cx="1606.2" cy="1219.2" r="6.1"/>
<circle class="r" cx="1613.4" cy="1220.3" r="6.1"/>
<circle class="r" cx="1620.7" cy="1221.3" r="6.1"/>
<circle class="r" cx="1627.9" cy="1222.3" r="6.1"/>
<circle class="r" cx="1635.2" cy="1223.1" r="6.1"/>
<circle class="r" cx="1642.4" cy="1223.9" r="6.1"/>
<circle class="r" cx="1649.7" cy="1224.7" r="6.1"/>
<circle class="r" cx="1656.9" cy="1225.5" r="6.1"/>
<circle class="r" cx="1664.2" cy="1226.3" r="6.1"/>
<circle class="r" cx="1671.4" cy="1227.0" r="6.1"/>
<circle class="r" cx="1678.6" cy="1227.7" r="6.1"/>
<circle class="r" cx="1685.9" cy="1228.3" r="6.1"/>
<circle class="r" cx="1693.1" cy="1229.0" r="6.1"/>
<circle class="r" cx="1700.4" cy="1229.7" r="6.1"/>
<circle class="r" cx="1707.6" cy="1230.2" r="6.1"/>
<circle class="r" cx="1714.9" cy="1230.8" r="6.1"/>
<circle class="r" cx="1722.1" cy="1231.3" r="6.1"/>
<circle class="r" cx="1729.4" cy="1231.9" r="6.1"/>
<circle class="r" cx="1736.6" cy="1232.4" r="6.1"/>
<circle class="r" cx="1743.8" cy="1233.0" r="6.1"/>
<circle class="r" cx="1751.1" cy="1233.5" r="6.1"/>
<circle class="r" cx="1758.3" cy="1234.1" r="6.1"/>
<circle class="r" cx="1765.6" cy="1234.6" r="6.1"/>
<circle class="r" cx="1772.8" cy="1235.2" r="6.1"/>
<circle class="r" cx="1780.1" cy="1235.6" r="6.1"/>
<circle class="r" cx="1787.3" cy="1236.0" r="6.1"/>
<circle class="r" cx="1794.6" cy="1236.4" r="6.1"/>
<circle class="r" cx="1801.8" cy="1236.8" r="6.1"/>
<circle class="r" cx="1809.0" cy="1237.2" r="6.1"/>
<circle class="r" cx="1816.3" cy="1237.6" r="6.1"/>
<circle class="r" cx="1823.5" cy="1237.9" r="6.1"/>
<circle class="r" cx="1830.8" cy="1238.3" r="6.1"/>
<circle class="r" cx="1838.0" cy="1238.6" r="6.1"/>
<circle class="r" cx="1845.3" cy="1239.0" r="6.1"/>
<circle class="r" cx="1852.5" cy="1239.3" r="6.1"/>
<circle class="r" cx="1859.8" cy="1239.5" r="6.1"/>
<circle class="r" cx="1867.0" cy="1239.8" r="6.1"/>
<circle class="r" cx="1874.3" cy="1240.0" r="6.1"/>
<circle class="r" cx="1881.5" cy="1240.3" r="6.1"/>
</g>
</svg></body></html>
